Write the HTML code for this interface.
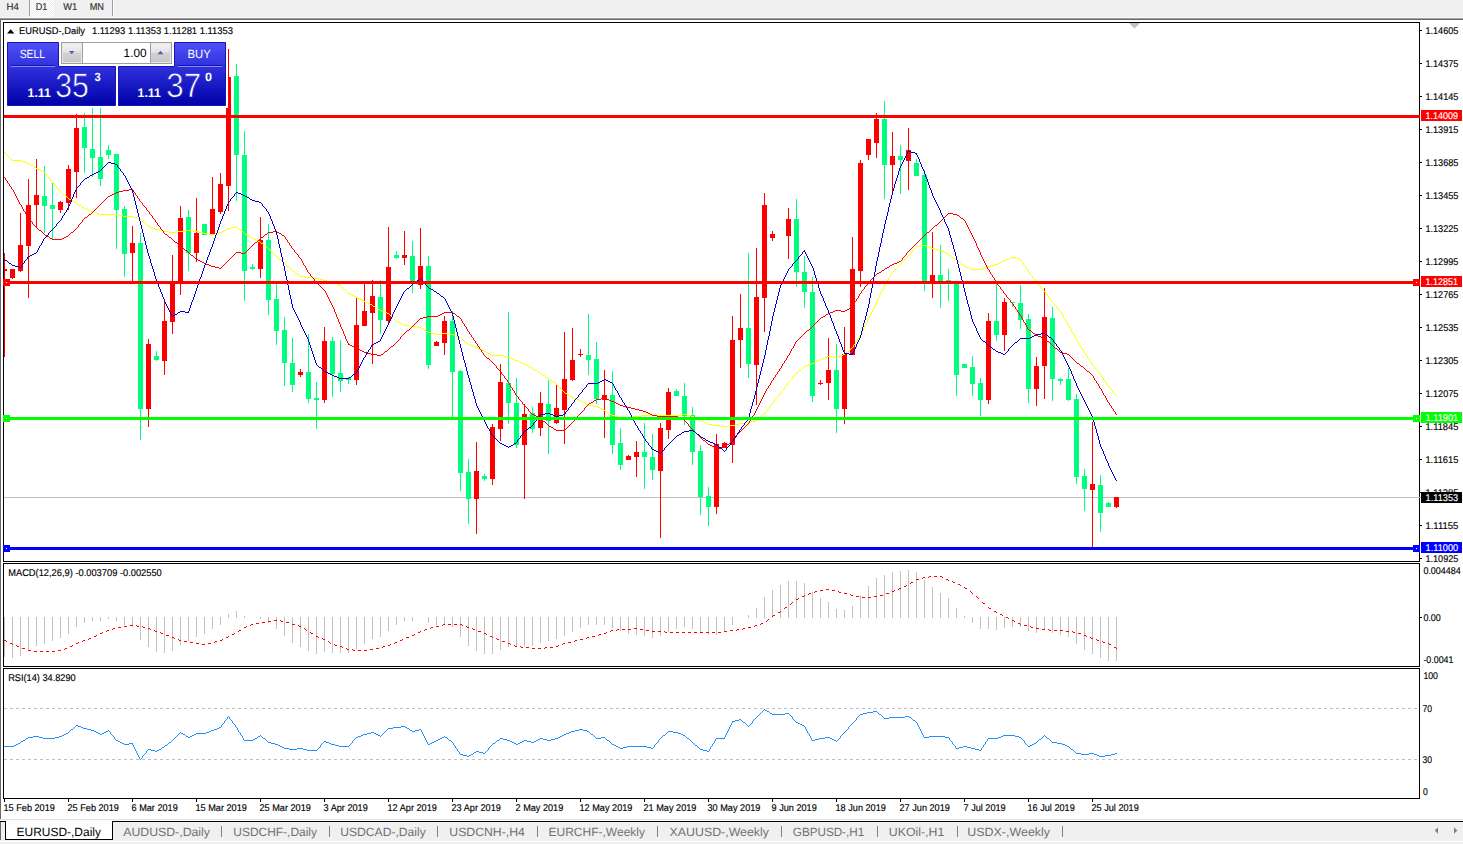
<!DOCTYPE html><html><head><meta charset="utf-8"><title>chart</title><style>html,body{margin:0;padding:0;background:#fff}svg{display:block}</style></head><body><svg width="1463" height="844" viewBox="0 0 1463 844" font-family="Liberation Sans, sans-serif" text-rendering="geometricPrecision">
<defs>
<linearGradient id="pg" gradientUnits="userSpaceOnUse" x1="0" y1="42" x2="0" y2="106"><stop offset="0" stop-color="#5252fa"/><stop offset="0.35" stop-color="#3333e0"/><stop offset="1" stop-color="#0000a8"/></linearGradient>
<linearGradient id="bg" x1="0" y1="0" x2="0" y2="1"><stop offset="0" stop-color="#f2f2f2"/><stop offset="0.45" stop-color="#e4e4e4"/><stop offset="0.5" stop-color="#d2d2d2"/><stop offset="1" stop-color="#c8c8c8"/></linearGradient>
<pattern id="dither" width="2" height="2" patternUnits="userSpaceOnUse"><rect width="2" height="2" fill="#f0f0f0"/><rect width="1" height="1" fill="#fff"/><rect x="1" y="1" width="1" height="1" fill="#fff"/></pattern>
<clipPath id="cm"><rect x="4" y="23" width="1415" height="538"/></clipPath>
</defs>
<rect x="0" y="0" width="1463" height="844" fill="#fff" />
<rect x="0" y="0" width="1463" height="17" fill="#f0f0f0" />
<rect x="0" y="17" width="1463" height="1" fill="#f8f8f8" />
<rect x="0" y="18" width="1463" height="1" fill="#a0a0a0" />
<rect x="0" y="19" width="1463" height="1" fill="#696969" />
<rect x="30" y="0" width="24" height="17" fill="url(#dither)" />
<rect x="29" y="0" width="1" height="16" fill="#a0a0a0" />
<rect x="112" y="0" width="1" height="16" fill="#a0a0a0" />
<rect x="113" y="0" width="1" height="16" fill="#fff" />
<text x="6.6" y="9.8" font-size="10" fill="#303030" textLength="12.3" lengthAdjust="spacingAndGlyphs" stroke="#303030" stroke-width="0.15" >H4</text>
<text x="35.7" y="9.8" font-size="10" fill="#303030" textLength="11.6" lengthAdjust="spacingAndGlyphs" stroke="#303030" stroke-width="0.15" >D1</text>
<text x="63.2" y="9.8" font-size="10" fill="#303030" textLength="13.9" lengthAdjust="spacingAndGlyphs" stroke="#303030" stroke-width="0.15" >W1</text>
<text x="89.7" y="9.8" font-size="10" fill="#303030" textLength="14.3" lengthAdjust="spacingAndGlyphs" stroke="#303030" stroke-width="0.15" >MN</text>
<rect x="0" y="20" width="1" height="800" fill="#696969" />
<g shape-rendering="crispEdges">
<g clip-path="url(#cm)">
<rect x="4" y="497" width="1415" height="1" fill="#c0c0c0" />
<rect x="4" y="253" width="1" height="104" fill="#ff0000" />
<rect x="2" y="269" width="5" height="2" fill="#ff0000" />
<rect x="12" y="269" width="1" height="10" fill="#ff0000" />
<rect x="10" y="269" width="5" height="9" fill="#ff0000" />
<rect x="20" y="213" width="1" height="59" fill="#ff0000" />
<rect x="18" y="245" width="5" height="26" fill="#ff0000" />
<rect x="28" y="179" width="1" height="119" fill="#ff0000" />
<rect x="26" y="205" width="5" height="41" fill="#ff0000" />
<rect x="36" y="159" width="1" height="68" fill="#ff0000" />
<rect x="34" y="195" width="5" height="10" fill="#ff0000" />
<rect x="44" y="166" width="1" height="67" fill="#00ff7f" />
<rect x="42" y="196" width="5" height="10" fill="#00ff7f" />
<rect x="52" y="182" width="1" height="57" fill="#00ff7f" />
<rect x="50" y="205" width="5" height="4" fill="#00ff7f" />
<rect x="60" y="201" width="1" height="12" fill="#ff0000" />
<rect x="58" y="202" width="5" height="8" fill="#ff0000" />
<rect x="68" y="165" width="1" height="45" fill="#ff0000" />
<rect x="66" y="169" width="5" height="34" fill="#ff0000" />
<rect x="76" y="114" width="1" height="84" fill="#ff0000" />
<rect x="74" y="128" width="5" height="44" fill="#ff0000" />
<rect x="84" y="113" width="1" height="60" fill="#00ff7f" />
<rect x="82" y="127" width="5" height="21" fill="#00ff7f" />
<rect x="92" y="108" width="1" height="69" fill="#00ff7f" />
<rect x="90" y="149" width="5" height="9" fill="#00ff7f" />
<rect x="100" y="108" width="1" height="78" fill="#00ff7f" />
<rect x="98" y="157" width="5" height="22" fill="#00ff7f" />
<rect x="108" y="145" width="1" height="14" fill="#00ff7f" />
<rect x="106" y="150" width="5" height="5" fill="#00ff7f" />
<rect x="116" y="154" width="1" height="95" fill="#00ff7f" />
<rect x="114" y="154" width="5" height="56" fill="#00ff7f" />
<rect x="124" y="206" width="1" height="71" fill="#00ff7f" />
<rect x="122" y="209" width="5" height="45" fill="#00ff7f" />
<rect x="132" y="226" width="1" height="55" fill="#ff0000" />
<rect x="130" y="243" width="5" height="10" fill="#ff0000" />
<rect x="140" y="233" width="1" height="207" fill="#00ff7f" />
<rect x="138" y="243" width="5" height="166" fill="#00ff7f" />
<rect x="148" y="339" width="1" height="88" fill="#ff0000" />
<rect x="146" y="344" width="5" height="65" fill="#ff0000" />
<rect x="156" y="351" width="1" height="10" fill="#00ff7f" />
<rect x="154" y="356" width="5" height="4" fill="#00ff7f" />
<rect x="164" y="300" width="1" height="75" fill="#ff0000" />
<rect x="162" y="321" width="5" height="40" fill="#ff0000" />
<rect x="172" y="255" width="1" height="79" fill="#ff0000" />
<rect x="170" y="281" width="5" height="41" fill="#ff0000" />
<rect x="180" y="206" width="1" height="89" fill="#ff0000" />
<rect x="178" y="218" width="5" height="64" fill="#ff0000" />
<rect x="188" y="210" width="1" height="61" fill="#00ff7f" />
<rect x="186" y="217" width="5" height="36" fill="#00ff7f" />
<rect x="196" y="198" width="1" height="64" fill="#ff0000" />
<rect x="194" y="233" width="5" height="20" fill="#ff0000" />
<rect x="204" y="224" width="1" height="11" fill="#00ff7f" />
<rect x="202" y="224" width="5" height="11" fill="#00ff7f" />
<rect x="212" y="177" width="1" height="58" fill="#ff0000" />
<rect x="210" y="209" width="5" height="25" fill="#ff0000" />
<rect x="220" y="173" width="1" height="41" fill="#ff0000" />
<rect x="218" y="184" width="5" height="28" fill="#ff0000" />
<rect x="228" y="49" width="1" height="162" fill="#ff0000" />
<rect x="226" y="77" width="5" height="109" fill="#ff0000" />
<rect x="236" y="64" width="1" height="137" fill="#00ff7f" />
<rect x="234" y="76" width="5" height="79" fill="#00ff7f" />
<rect x="244" y="131" width="1" height="170" fill="#00ff7f" />
<rect x="242" y="155" width="5" height="116" fill="#00ff7f" />
<rect x="252" y="264" width="1" height="6" fill="#00ff7f" />
<rect x="250" y="267" width="5" height="2" fill="#00ff7f" />
<rect x="260" y="217" width="1" height="61" fill="#ff0000" />
<rect x="258" y="240" width="5" height="29" fill="#ff0000" />
<rect x="268" y="224" width="1" height="91" fill="#00ff7f" />
<rect x="266" y="240" width="5" height="60" fill="#00ff7f" />
<rect x="276" y="284" width="1" height="61" fill="#00ff7f" />
<rect x="274" y="299" width="5" height="32" fill="#00ff7f" />
<rect x="284" y="317" width="1" height="69" fill="#00ff7f" />
<rect x="282" y="330" width="5" height="33" fill="#00ff7f" />
<rect x="292" y="338" width="1" height="54" fill="#00ff7f" />
<rect x="290" y="363" width="5" height="22" fill="#00ff7f" />
<rect x="300" y="369" width="1" height="8" fill="#ff0000" />
<rect x="298" y="372" width="5" height="3" fill="#ff0000" />
<rect x="308" y="334" width="1" height="69" fill="#00ff7f" />
<rect x="306" y="372" width="5" height="27" fill="#00ff7f" />
<rect x="316" y="382" width="1" height="47" fill="#00ff7f" />
<rect x="314" y="398" width="5" height="2" fill="#00ff7f" />
<rect x="324" y="327" width="1" height="76" fill="#ff0000" />
<rect x="322" y="341" width="5" height="59" fill="#ff0000" />
<rect x="332" y="337" width="1" height="60" fill="#00ff7f" />
<rect x="330" y="341" width="5" height="33" fill="#00ff7f" />
<rect x="340" y="340" width="1" height="52" fill="#00ff7f" />
<rect x="338" y="373" width="5" height="8" fill="#00ff7f" />
<rect x="348" y="377" width="1" height="7" fill="#00ff7f" />
<rect x="346" y="378" width="5" height="2" fill="#00ff7f" />
<rect x="356" y="298" width="1" height="87" fill="#ff0000" />
<rect x="354" y="325" width="5" height="55" fill="#ff0000" />
<rect x="364" y="284" width="1" height="42" fill="#ff0000" />
<rect x="362" y="311" width="5" height="15" fill="#ff0000" />
<rect x="372" y="280" width="1" height="84" fill="#ff0000" />
<rect x="370" y="296" width="5" height="17" fill="#ff0000" />
<rect x="380" y="280" width="1" height="54" fill="#00ff7f" />
<rect x="378" y="297" width="5" height="23" fill="#00ff7f" />
<rect x="388" y="227" width="1" height="97" fill="#ff0000" />
<rect x="386" y="267" width="5" height="54" fill="#ff0000" />
<rect x="396" y="251" width="1" height="8" fill="#00ff7f" />
<rect x="394" y="255" width="5" height="3" fill="#00ff7f" />
<rect x="404" y="231" width="1" height="34" fill="#ff0000" />
<rect x="402" y="255" width="5" height="3" fill="#ff0000" />
<rect x="412" y="241" width="1" height="52" fill="#00ff7f" />
<rect x="410" y="256" width="5" height="28" fill="#00ff7f" />
<rect x="420" y="228" width="1" height="61" fill="#ff0000" />
<rect x="418" y="266" width="5" height="19" fill="#ff0000" />
<rect x="428" y="256" width="1" height="113" fill="#00ff7f" />
<rect x="426" y="266" width="5" height="99" fill="#00ff7f" />
<rect x="436" y="341" width="1" height="5" fill="#ff0000" />
<rect x="434" y="342" width="5" height="4" fill="#ff0000" />
<rect x="444" y="316" width="1" height="39" fill="#ff0000" />
<rect x="442" y="321" width="5" height="22" fill="#ff0000" />
<rect x="452" y="311" width="1" height="106" fill="#00ff7f" />
<rect x="450" y="321" width="5" height="51" fill="#00ff7f" />
<rect x="460" y="370" width="1" height="121" fill="#00ff7f" />
<rect x="458" y="371" width="5" height="102" fill="#00ff7f" />
<rect x="468" y="459" width="1" height="65" fill="#00ff7f" />
<rect x="466" y="472" width="5" height="27" fill="#00ff7f" />
<rect x="476" y="442" width="1" height="92" fill="#ff0000" />
<rect x="474" y="471" width="5" height="28" fill="#ff0000" />
<rect x="484" y="474" width="1" height="7" fill="#00ff7f" />
<rect x="482" y="476" width="5" height="3" fill="#00ff7f" />
<rect x="492" y="424" width="1" height="61" fill="#ff0000" />
<rect x="490" y="427" width="5" height="52" fill="#ff0000" />
<rect x="500" y="364" width="1" height="77" fill="#ff0000" />
<rect x="498" y="382" width="5" height="47" fill="#ff0000" />
<rect x="508" y="312" width="1" height="112" fill="#00ff7f" />
<rect x="506" y="383" width="5" height="20" fill="#00ff7f" />
<rect x="516" y="378" width="1" height="70" fill="#00ff7f" />
<rect x="514" y="403" width="5" height="42" fill="#00ff7f" />
<rect x="524" y="404" width="1" height="95" fill="#ff0000" />
<rect x="522" y="414" width="5" height="31" fill="#ff0000" />
<rect x="532" y="407" width="1" height="26" fill="#00ff7f" />
<rect x="530" y="413" width="5" height="16" fill="#00ff7f" />
<rect x="540" y="392" width="1" height="44" fill="#ff0000" />
<rect x="538" y="403" width="5" height="25" fill="#ff0000" />
<rect x="548" y="380" width="1" height="74" fill="#00ff7f" />
<rect x="546" y="404" width="5" height="17" fill="#00ff7f" />
<rect x="556" y="385" width="1" height="39" fill="#ff0000" />
<rect x="554" y="408" width="5" height="15" fill="#ff0000" />
<rect x="564" y="332" width="1" height="112" fill="#ff0000" />
<rect x="562" y="379" width="5" height="31" fill="#ff0000" />
<rect x="572" y="328" width="1" height="53" fill="#ff0000" />
<rect x="570" y="360" width="5" height="20" fill="#ff0000" />
<rect x="580" y="349" width="1" height="8" fill="#ff0000" />
<rect x="578" y="354" width="5" height="1" fill="#ff0000" />
<rect x="588" y="314" width="1" height="61" fill="#00ff7f" />
<rect x="586" y="355" width="5" height="5" fill="#00ff7f" />
<rect x="596" y="342" width="1" height="62" fill="#00ff7f" />
<rect x="594" y="359" width="5" height="40" fill="#00ff7f" />
<rect x="604" y="370" width="1" height="68" fill="#ff0000" />
<rect x="602" y="395" width="5" height="5" fill="#ff0000" />
<rect x="612" y="371" width="1" height="83" fill="#00ff7f" />
<rect x="610" y="395" width="5" height="50" fill="#00ff7f" />
<rect x="620" y="428" width="1" height="42" fill="#00ff7f" />
<rect x="618" y="443" width="5" height="22" fill="#00ff7f" />
<rect x="628" y="455" width="1" height="5" fill="#ff0000" />
<rect x="626" y="456" width="5" height="4" fill="#ff0000" />
<rect x="636" y="441" width="1" height="36" fill="#ff0000" />
<rect x="634" y="452" width="5" height="5" fill="#ff0000" />
<rect x="644" y="423" width="1" height="66" fill="#00ff7f" />
<rect x="642" y="452" width="5" height="5" fill="#00ff7f" />
<rect x="652" y="434" width="1" height="46" fill="#00ff7f" />
<rect x="650" y="457" width="5" height="13" fill="#00ff7f" />
<rect x="660" y="423" width="1" height="115" fill="#ff0000" />
<rect x="658" y="428" width="5" height="43" fill="#ff0000" />
<rect x="668" y="388" width="1" height="51" fill="#ff0000" />
<rect x="666" y="392" width="5" height="38" fill="#ff0000" />
<rect x="676" y="389" width="1" height="7" fill="#00ff7f" />
<rect x="674" y="391" width="5" height="5" fill="#00ff7f" />
<rect x="684" y="383" width="1" height="42" fill="#00ff7f" />
<rect x="682" y="396" width="5" height="20" fill="#00ff7f" />
<rect x="692" y="407" width="1" height="58" fill="#00ff7f" />
<rect x="690" y="415" width="5" height="37" fill="#00ff7f" />
<rect x="700" y="445" width="1" height="70" fill="#00ff7f" />
<rect x="698" y="451" width="5" height="46" fill="#00ff7f" />
<rect x="708" y="487" width="1" height="39" fill="#00ff7f" />
<rect x="706" y="496" width="5" height="11" fill="#00ff7f" />
<rect x="716" y="434" width="1" height="80" fill="#ff0000" />
<rect x="714" y="444" width="5" height="63" fill="#ff0000" />
<rect x="724" y="442" width="1" height="6" fill="#ff0000" />
<rect x="722" y="443" width="5" height="5" fill="#ff0000" />
<rect x="732" y="316" width="1" height="147" fill="#ff0000" />
<rect x="730" y="340" width="5" height="105" fill="#ff0000" />
<rect x="740" y="294" width="1" height="74" fill="#ff0000" />
<rect x="738" y="328" width="5" height="12" fill="#ff0000" />
<rect x="748" y="253" width="1" height="125" fill="#00ff7f" />
<rect x="746" y="328" width="5" height="36" fill="#00ff7f" />
<rect x="756" y="248" width="1" height="157" fill="#ff0000" />
<rect x="754" y="297" width="5" height="68" fill="#ff0000" />
<rect x="764" y="193" width="1" height="139" fill="#ff0000" />
<rect x="762" y="205" width="5" height="93" fill="#ff0000" />
<rect x="772" y="231" width="1" height="10" fill="#ff0000" />
<rect x="770" y="234" width="5" height="4" fill="#ff0000" />
<rect x="788" y="208" width="1" height="51" fill="#ff0000" />
<rect x="786" y="219" width="5" height="17" fill="#ff0000" />
<rect x="796" y="199" width="1" height="88" fill="#00ff7f" />
<rect x="794" y="219" width="5" height="53" fill="#00ff7f" />
<rect x="804" y="256" width="1" height="52" fill="#00ff7f" />
<rect x="802" y="272" width="5" height="20" fill="#00ff7f" />
<rect x="812" y="277" width="1" height="125" fill="#00ff7f" />
<rect x="810" y="292" width="5" height="104" fill="#00ff7f" />
<rect x="820" y="380" width="1" height="5" fill="#ff0000" />
<rect x="818" y="383" width="5" height="1" fill="#ff0000" />
<rect x="828" y="338" width="1" height="62" fill="#ff0000" />
<rect x="826" y="370" width="5" height="13" fill="#ff0000" />
<rect x="836" y="344" width="1" height="89" fill="#00ff7f" />
<rect x="834" y="370" width="5" height="39" fill="#00ff7f" />
<rect x="844" y="327" width="1" height="97" fill="#ff0000" />
<rect x="842" y="354" width="5" height="55" fill="#ff0000" />
<rect x="852" y="237" width="1" height="118" fill="#ff0000" />
<rect x="850" y="269" width="5" height="86" fill="#ff0000" />
<rect x="860" y="160" width="1" height="127" fill="#ff0000" />
<rect x="858" y="163" width="5" height="108" fill="#ff0000" />
<rect x="868" y="139" width="1" height="21" fill="#ff0000" />
<rect x="866" y="139" width="5" height="16" fill="#ff0000" />
<rect x="876" y="113" width="1" height="45" fill="#ff0000" />
<rect x="874" y="119" width="5" height="24" fill="#ff0000" />
<rect x="884" y="101" width="1" height="98" fill="#00ff7f" />
<rect x="882" y="119" width="5" height="46" fill="#00ff7f" />
<rect x="892" y="132" width="1" height="62" fill="#ff0000" />
<rect x="890" y="156" width="5" height="9" fill="#ff0000" />
<rect x="900" y="145" width="1" height="49" fill="#00ff7f" />
<rect x="898" y="156" width="5" height="4" fill="#00ff7f" />
<rect x="908" y="128" width="1" height="62" fill="#ff0000" />
<rect x="906" y="150" width="5" height="11" fill="#ff0000" />
<rect x="916" y="159" width="1" height="17" fill="#00ff7f" />
<rect x="914" y="163" width="5" height="13" fill="#00ff7f" />
<rect x="924" y="170" width="1" height="121" fill="#00ff7f" />
<rect x="922" y="175" width="5" height="107" fill="#00ff7f" />
<rect x="932" y="232" width="1" height="66" fill="#ff0000" />
<rect x="930" y="275" width="5" height="7" fill="#ff0000" />
<rect x="940" y="245" width="1" height="63" fill="#00ff7f" />
<rect x="938" y="275" width="5" height="6" fill="#00ff7f" />
<rect x="948" y="269" width="1" height="32" fill="#00ff7f" />
<rect x="946" y="280" width="5" height="1" fill="#00ff7f" />
<rect x="956" y="283" width="1" height="113" fill="#00ff7f" />
<rect x="954" y="283" width="5" height="92" fill="#00ff7f" />
<rect x="964" y="364" width="1" height="4" fill="#00ff7f" />
<rect x="962" y="364" width="5" height="4" fill="#00ff7f" />
<rect x="972" y="356" width="1" height="40" fill="#00ff7f" />
<rect x="970" y="367" width="5" height="17" fill="#00ff7f" />
<rect x="980" y="378" width="1" height="38" fill="#00ff7f" />
<rect x="978" y="383" width="5" height="17" fill="#00ff7f" />
<rect x="988" y="313" width="1" height="91" fill="#ff0000" />
<rect x="986" y="321" width="5" height="79" fill="#ff0000" />
<rect x="996" y="284" width="1" height="57" fill="#00ff7f" />
<rect x="994" y="321" width="5" height="14" fill="#00ff7f" />
<rect x="1004" y="298" width="1" height="53" fill="#ff0000" />
<rect x="1002" y="302" width="5" height="33" fill="#ff0000" />
<rect x="1012" y="302" width="1" height="5" fill="#00ff7f" />
<rect x="1010" y="302" width="5" height="1" fill="#00ff7f" />
<rect x="1020" y="285" width="1" height="44" fill="#00ff7f" />
<rect x="1018" y="303" width="5" height="17" fill="#00ff7f" />
<rect x="1028" y="314" width="1" height="89" fill="#00ff7f" />
<rect x="1026" y="319" width="5" height="70" fill="#00ff7f" />
<rect x="1036" y="357" width="1" height="49" fill="#ff0000" />
<rect x="1034" y="366" width="5" height="23" fill="#ff0000" />
<rect x="1044" y="288" width="1" height="111" fill="#ff0000" />
<rect x="1042" y="317" width="5" height="49" fill="#ff0000" />
<rect x="1052" y="307" width="1" height="94" fill="#00ff7f" />
<rect x="1050" y="318" width="5" height="61" fill="#00ff7f" />
<rect x="1060" y="378" width="1" height="7" fill="#00ff7f" />
<rect x="1058" y="379" width="5" height="2" fill="#00ff7f" />
<rect x="1068" y="368" width="1" height="33" fill="#00ff7f" />
<rect x="1066" y="379" width="5" height="21" fill="#00ff7f" />
<rect x="1076" y="394" width="1" height="90" fill="#00ff7f" />
<rect x="1074" y="399" width="5" height="78" fill="#00ff7f" />
<rect x="1084" y="469" width="1" height="42" fill="#00ff7f" />
<rect x="1082" y="476" width="5" height="13" fill="#00ff7f" />
<rect x="1092" y="422" width="1" height="125" fill="#ff0000" />
<rect x="1090" y="484" width="5" height="6" fill="#ff0000" />
<rect x="1100" y="475" width="1" height="57" fill="#00ff7f" />
<rect x="1098" y="485" width="5" height="28" fill="#00ff7f" />
<rect x="1108" y="502" width="1" height="5" fill="#00ff7f" />
<rect x="1106" y="503" width="5" height="4" fill="#00ff7f" />
<rect x="1116" y="497" width="1" height="11" fill="#ff0000" />
<rect x="1114" y="497" width="5" height="10" fill="#ff0000" />
<path d="M4 152h1v1h-1zM5 153h1v1h-1zM6 154h1v1h-1zM7 155h1v1h-1zM8 156h1v1h-1zM9 157h1v1h-1zM10 158h1v1h-1zM11 159h1v1h-1zM12 160h10v1h-10zM22 161h3v1h-3zM25 162h2v1h-2zM27 163h2v1h-2zM29 164h2v1h-2zM31 165h2v1h-2zM33 166h1v1h-1zM34 167h2v1h-2zM36 168h2v1h-2zM38 169h2v1h-2zM40 170h2v1h-2zM42 171h2v1h-2zM44 172h1v1h-1zM45 173h1v1h-1zM46 174h1v2h-1zM47 176h1v1h-1zM48 177h1v1h-1zM49 178h1v1h-1zM50 179h1v2h-1zM51 181h1v1h-1zM52 182h1v1h-1zM53 183h1v1h-1zM54 184h1v1h-1zM55 185h1v1h-1zM56 186h1v2h-1zM57 188h1v1h-1zM58 189h1v1h-1zM59 190h1v1h-1zM60 191h1v1h-1zM61 192h1v1h-1zM62 193h1v1h-1zM63 194h2v1h-2zM65 195h1v1h-1zM66 196h1v1h-1zM67 197h1v1h-1zM68 198h1v1h-1zM69 199h2v1h-2zM71 200h2v1h-2zM73 201h1v1h-1zM74 202h2v1h-2zM76 203h1v1h-1zM77 204h2v1h-2zM79 205h2v1h-2zM81 206h1v1h-1zM82 207h2v1h-2zM84 208h2v1h-2zM86 209h3v1h-3zM89 210h2v1h-2zM91 211h3v1h-3zM94 212h3v1h-3zM97 213h2v1h-2zM99 214h20v1h-20zM119 215h4v1h-4zM123 216h11v1h-11zM134 217h3v1h-3zM137 218h2v1h-2zM139 219h2v1h-2zM141 220h1v1h-1zM142 221h1v1h-1zM143 222h2v1h-2zM145 223h1v1h-1zM146 224h1v1h-1zM147 225h1v1h-1zM148 226h2v1h-2zM235 226h2v1h-2zM150 227h3v1h-3zM231 227h4v1h-4zM237 227h1v1h-1zM153 228h2v1h-2zM228 228h3v1h-3zM238 228h1v1h-1zM155 229h4v1h-4zM226 229h2v1h-2zM239 229h2v1h-2zM159 230h4v1h-4zM185 230h8v1h-8zM224 230h2v1h-2zM241 230h1v1h-1zM163 231h6v1h-6zM177 231h8v1h-8zM193 231h6v1h-6zM222 231h2v1h-2zM242 231h1v1h-1zM169 232h8v1h-8zM199 232h4v1h-4zM219 232h3v1h-3zM243 232h1v1h-1zM203 233h6v1h-6zM215 233h4v1h-4zM244 233h1v1h-1zM209 234h6v1h-6zM245 234h2v1h-2zM247 235h2v1h-2zM249 236h1v1h-1zM250 237h2v1h-2zM252 238h2v1h-2zM254 239h2v1h-2zM256 240h2v1h-2zM258 241h2v1h-2zM260 242h1v1h-1zM261 243h2v1h-2zM263 244h1v1h-1zM264 245h1v1h-1zM921 245h5v1h-5zM265 246h2v1h-2zM916 246h5v1h-5zM926 246h3v1h-3zM267 247h1v1h-1zM915 247h1v1h-1zM929 247h2v1h-2zM268 248h1v1h-1zM914 248h1v1h-1zM931 248h4v1h-4zM269 249h1v1h-1zM913 249h1v1h-1zM935 249h4v1h-4zM270 250h1v1h-1zM939 250h3v1h-3zM912 250h1v2h-1zM271 251h1v1h-1zM942 251h2v1h-2zM272 252h1v1h-1zM911 252h1v1h-1zM944 252h2v1h-2zM273 253h1v1h-1zM910 253h1v1h-1zM946 253h2v1h-2zM274 254h1v1h-1zM909 254h1v1h-1zM948 254h1v1h-1zM275 255h1v1h-1zM908 255h1v1h-1zM949 255h2v1h-2zM276 256h1v1h-1zM907 256h1v1h-1zM951 256h1v1h-1zM277 257h1v1h-1zM906 257h1v1h-1zM952 257h1v1h-1zM1011 257h4v1h-4zM278 258h1v1h-1zM905 258h1v1h-1zM953 258h2v1h-2zM1009 258h2v1h-2zM1015 258h4v1h-4zM279 259h2v1h-2zM955 259h1v1h-1zM1006 259h3v1h-3zM1019 259h2v1h-2zM904 259h1v2h-1zM281 260h1v1h-1zM956 260h1v1h-1zM1004 260h2v1h-2zM1021 260h1v2h-1zM282 261h1v1h-1zM903 261h1v1h-1zM957 261h2v1h-2zM1002 261h2v1h-2zM283 262h1v1h-1zM902 262h1v1h-1zM959 262h1v1h-1zM1000 262h2v1h-2zM1022 262h1v1h-1zM284 263h1v1h-1zM901 263h1v1h-1zM960 263h1v1h-1zM998 263h2v1h-2zM1023 263h1v2h-1zM285 264h1v1h-1zM900 264h1v1h-1zM961 264h2v1h-2zM995 264h3v1h-3zM286 265h1v1h-1zM899 265h1v1h-1zM963 265h1v1h-1zM991 265h4v1h-4zM1024 265h1v1h-1zM287 266h2v1h-2zM898 266h1v1h-1zM964 266h2v1h-2zM987 266h4v1h-4zM1025 266h1v2h-1zM289 267h1v1h-1zM897 267h1v1h-1zM966 267h3v1h-3zM985 267h2v1h-2zM290 268h1v1h-1zM896 268h1v1h-1zM969 268h2v1h-2zM982 268h3v1h-3zM1026 268h1v1h-1zM291 269h1v1h-1zM895 269h1v1h-1zM971 269h11v1h-11zM1027 269h1v2h-1zM292 270h1v1h-1zM894 270h1v1h-1zM293 271h2v1h-2zM893 271h1v1h-1zM1028 271h1v1h-1zM295 272h1v1h-1zM892 272h1v1h-1zM1029 272h1v2h-1zM296 273h1v1h-1zM891 273h1v2h-1zM297 274h2v1h-2zM1030 274h1v1h-1zM299 275h1v1h-1zM1031 275h1v1h-1zM890 275h1v2h-1zM300 276h5v1h-5zM1032 276h1v2h-1zM305 277h8v1h-8zM889 277h1v1h-1zM313 278h6v1h-6zM1033 278h1v1h-1zM888 278h1v2h-1zM319 279h4v1h-4zM1034 279h1v1h-1zM323 280h4v1h-4zM887 280h1v1h-1zM1035 280h1v2h-1zM327 281h4v1h-4zM886 281h1v2h-1zM331 282h3v1h-3zM1036 282h1v1h-1zM334 283h3v1h-3zM1037 283h1v1h-1zM885 283h1v2h-1zM337 284h2v1h-2zM1038 284h1v1h-1zM339 285h2v1h-2zM1039 285h1v1h-1zM884 285h1v2h-1zM341 286h1v1h-1zM1040 286h1v2h-1zM342 287h1v1h-1zM883 287h1v2h-1zM343 288h1v1h-1zM1041 288h1v1h-1zM344 289h1v1h-1zM1042 289h1v1h-1zM882 289h1v2h-1zM345 290h1v1h-1zM1043 290h1v1h-1zM346 291h1v1h-1zM1044 291h1v1h-1zM881 291h1v2h-1zM347 292h1v1h-1zM1045 292h1v2h-1zM348 293h2v1h-2zM880 293h1v2h-1zM350 294h2v1h-2zM1046 294h1v1h-1zM352 295h2v1h-2zM1047 295h1v1h-1zM879 295h1v2h-1zM354 296h2v1h-2zM1048 296h1v2h-1zM356 297h2v1h-2zM878 297h1v2h-1zM358 298h2v1h-2zM1049 298h1v1h-1zM360 299h2v1h-2zM1050 299h1v1h-1zM877 299h1v2h-1zM362 300h2v1h-2zM1051 300h1v2h-1zM364 301h2v1h-2zM876 301h1v3h-1zM366 302h2v1h-2zM1052 302h1v1h-1zM368 303h2v1h-2zM1053 303h1v1h-1zM370 304h2v1h-2zM1054 304h1v1h-1zM875 304h1v2h-1zM372 305h1v1h-1zM1055 305h1v1h-1zM373 306h2v1h-2zM874 306h1v2h-1zM1056 306h1v2h-1zM375 307h2v1h-2zM377 308h1v1h-1zM1057 308h1v1h-1zM873 308h1v2h-1zM378 309h2v1h-2zM1058 309h1v1h-1zM380 310h2v1h-2zM1059 310h1v1h-1zM872 310h1v2h-1zM382 311h3v1h-3zM1060 311h1v1h-1zM385 312h2v1h-2zM871 312h1v2h-1zM1061 312h1v2h-1zM387 313h2v1h-2zM389 314h1v1h-1zM870 314h1v2h-1zM1062 314h1v2h-1zM390 315h1v1h-1zM391 316h1v1h-1zM869 316h1v2h-1zM1063 316h1v2h-1zM392 317h1v1h-1zM393 318h1v1h-1zM1064 318h1v1h-1zM868 318h1v2h-1zM394 319h1v1h-1zM1065 319h1v2h-1zM395 320h1v1h-1zM867 320h1v2h-1zM396 321h2v1h-2zM1066 321h1v2h-1zM398 322h2v1h-2zM866 322h1v2h-1zM400 323h2v1h-2zM1067 323h1v2h-1zM402 324h2v1h-2zM865 324h1v2h-1zM404 325h5v1h-5zM1068 325h1v1h-1zM409 326h8v1h-8zM864 326h1v2h-1zM1069 326h1v2h-1zM417 327h4v1h-4zM421 328h2v1h-2zM863 328h1v2h-1zM1070 328h1v2h-1zM423 329h2v1h-2zM425 330h1v1h-1zM862 330h1v2h-1zM1071 330h1v2h-1zM426 331h2v1h-2zM428 332h3v1h-3zM1072 332h1v1h-1zM861 332h1v2h-1zM431 333h4v1h-4zM441 333h8v1h-8zM1073 333h1v2h-1zM435 334h6v1h-6zM449 334h5v1h-5zM860 334h1v2h-1zM454 335h2v1h-2zM1074 335h1v2h-1zM456 336h2v1h-2zM859 336h1v2h-1zM458 337h2v1h-2zM1075 337h1v2h-1zM460 338h1v1h-1zM858 338h1v1h-1zM461 339h2v1h-2zM1076 339h1v1h-1zM857 339h1v2h-1zM463 340h1v1h-1zM1077 340h1v2h-1zM464 341h1v1h-1zM856 341h1v1h-1zM465 342h2v1h-2zM855 342h1v2h-1zM1078 342h1v2h-1zM467 343h1v1h-1zM468 344h2v1h-2zM854 344h1v1h-1zM1079 344h1v1h-1zM470 345h3v1h-3zM853 345h1v2h-1zM1080 345h1v2h-1zM473 346h2v1h-2zM475 347h3v1h-3zM852 347h1v1h-1zM1081 347h1v1h-1zM478 348h2v1h-2zM851 348h1v1h-1zM1082 348h1v2h-1zM480 349h2v1h-2zM850 349h1v1h-1zM482 350h2v1h-2zM849 350h1v1h-1zM1083 350h1v2h-1zM484 351h2v1h-2zM847 351h2v1h-2zM486 352h2v1h-2zM846 352h1v1h-1zM1084 352h1v1h-1zM488 353h2v1h-2zM845 353h1v1h-1zM1085 353h1v2h-1zM490 354h2v1h-2zM843 354h2v1h-2zM492 355h11v1h-11zM841 355h2v1h-2zM1086 355h1v1h-1zM503 356h4v1h-4zM827 356h6v1h-6zM838 356h3v1h-3zM1087 356h1v2h-1zM507 357h3v1h-3zM825 357h2v1h-2zM833 357h5v1h-5zM510 358h3v1h-3zM822 358h3v1h-3zM1088 358h1v1h-1zM513 359h2v1h-2zM820 359h2v1h-2zM1089 359h1v2h-1zM515 360h3v1h-3zM818 360h2v1h-2zM518 361h2v1h-2zM816 361h2v1h-2zM1090 361h1v1h-1zM520 362h2v1h-2zM814 362h2v1h-2zM1091 362h1v2h-1zM522 363h2v1h-2zM811 363h3v1h-3zM524 364h2v1h-2zM809 364h2v1h-2zM1092 364h1v1h-1zM526 365h2v1h-2zM806 365h3v1h-3zM1093 365h1v1h-1zM528 366h2v1h-2zM804 366h2v1h-2zM1094 366h1v2h-1zM530 367h2v1h-2zM803 367h1v1h-1zM532 368h1v1h-1zM802 368h1v1h-1zM1095 368h1v1h-1zM533 369h2v1h-2zM801 369h1v1h-1zM1096 369h1v1h-1zM535 370h2v1h-2zM799 370h2v1h-2zM1097 370h1v1h-1zM537 371h1v1h-1zM798 371h1v1h-1zM1098 371h1v2h-1zM538 372h2v1h-2zM797 372h1v1h-1zM540 373h1v1h-1zM796 373h1v1h-1zM1099 373h1v1h-1zM541 374h2v1h-2zM795 374h1v1h-1zM1100 374h1v1h-1zM543 375h2v1h-2zM794 375h1v1h-1zM1101 375h1v2h-1zM545 376h1v1h-1zM793 376h1v1h-1zM546 377h2v1h-2zM1102 377h1v1h-1zM792 377h1v2h-1zM548 378h1v1h-1zM1103 378h1v2h-1zM549 379h2v1h-2zM791 379h1v1h-1zM551 380h1v1h-1zM790 380h1v1h-1zM1104 380h1v1h-1zM552 381h1v1h-1zM789 381h1v1h-1zM1105 381h1v2h-1zM553 382h2v1h-2zM788 382h1v1h-1zM555 383h1v1h-1zM1106 383h1v1h-1zM787 383h1v2h-1zM556 384h1v1h-1zM1107 384h1v2h-1zM557 385h1v1h-1zM786 385h1v1h-1zM558 386h1v1h-1zM785 386h1v1h-1zM1108 386h1v1h-1zM559 387h1v1h-1zM1109 387h1v1h-1zM784 387h1v2h-1zM560 388h1v1h-1zM1110 388h1v1h-1zM561 389h1v1h-1zM783 389h1v1h-1zM1111 389h1v1h-1zM562 390h1v1h-1zM782 390h1v1h-1zM1112 390h1v2h-1zM563 391h1v1h-1zM781 391h1v2h-1zM564 392h1v1h-1zM1113 392h1v1h-1zM565 393h2v1h-2zM780 393h1v1h-1zM1114 393h1v1h-1zM567 394h2v1h-2zM779 394h1v1h-1zM1115 394h1v1h-1zM569 395h1v1h-1zM1116 395h1v1h-1zM778 395h1v2h-1zM570 396h2v1h-2zM572 397h2v1h-2zM777 397h1v1h-1zM574 398h3v1h-3zM776 398h1v1h-1zM577 399h2v1h-2zM775 399h1v1h-1zM579 400h2v1h-2zM774 400h1v2h-1zM581 401h2v1h-2zM583 402h2v1h-2zM773 402h1v1h-1zM585 403h1v1h-1zM772 403h1v1h-1zM586 404h2v1h-2zM771 404h1v1h-1zM588 405h5v1h-5zM770 405h1v2h-1zM593 406h5v1h-5zM598 407h2v1h-2zM769 407h1v1h-1zM600 408h2v1h-2zM768 408h1v1h-1zM602 409h2v1h-2zM767 409h1v1h-1zM604 410h1v1h-1zM766 410h1v2h-1zM605 411h2v1h-2zM607 412h2v1h-2zM765 412h1v1h-1zM609 413h1v1h-1zM764 413h1v1h-1zM610 414h2v1h-2zM681 414h6v1h-6zM763 414h1v1h-1zM612 415h3v1h-3zM641 415h40v1h-40zM687 415h4v1h-4zM762 415h1v1h-1zM615 416h4v1h-4zM633 416h8v1h-8zM691 416h3v1h-3zM761 416h1v1h-1zM619 417h14v1h-14zM694 417h2v1h-2zM759 417h2v1h-2zM696 418h2v1h-2zM758 418h1v1h-1zM698 419h2v1h-2zM757 419h1v1h-1zM700 420h2v1h-2zM755 420h2v1h-2zM702 421h2v1h-2zM751 421h4v1h-4zM704 422h2v1h-2zM745 422h6v1h-6zM706 423h2v1h-2zM739 423h6v1h-6zM708 424h5v1h-5zM735 424h4v1h-4zM713 425h8v1h-8zM729 425h6v1h-6zM721 426h8v1h-8z" fill="#ffff00"/>
<path d="M4 177h1v1h-1zM5 178h1v2h-1zM6 180h1v1h-1zM7 181h1v2h-1zM8 183h1v1h-1zM9 184h1v2h-1zM10 186h1v1h-1zM11 187h1v2h-1zM12 189h1v1h-1zM129 189h4v1h-4zM123 190h6v1h-6zM13 190h1v2h-1zM133 190h1v2h-1zM119 191h4v1h-4zM116 192h3v1h-3zM134 192h1v1h-1zM14 192h1v2h-1zM114 193h2v1h-2zM135 193h1v2h-1zM112 194h2v1h-2zM15 194h1v2h-1zM110 195h2v1h-2zM136 195h1v1h-1zM108 196h2v1h-2zM16 196h1v2h-1zM137 196h1v2h-1zM107 197h1v1h-1zM106 198h1v1h-1zM138 198h1v1h-1zM17 198h1v2h-1zM105 199h1v1h-1zM139 199h1v2h-1zM104 200h1v1h-1zM18 200h1v2h-1zM103 201h1v1h-1zM140 201h1v1h-1zM102 202h1v1h-1zM141 202h1v1h-1zM19 202h1v2h-1zM101 203h1v1h-1zM142 203h1v2h-1zM20 204h1v1h-1zM100 204h1v1h-1zM99 205h1v1h-1zM143 205h1v1h-1zM21 205h1v2h-1zM98 206h1v1h-1zM144 206h1v1h-1zM97 207h1v1h-1zM145 207h1v1h-1zM22 207h1v2h-1zM96 208h1v1h-1zM146 208h1v2h-1zM95 209h1v1h-1zM23 209h1v2h-1zM94 210h1v1h-1zM147 210h1v1h-1zM24 211h1v1h-1zM93 211h1v1h-1zM148 211h1v1h-1zM92 212h1v1h-1zM25 212h1v2h-1zM149 212h1v2h-1zM91 213h1v1h-1zM948 213h5v1h-5zM89 214h2v1h-2zM150 214h1v1h-1zM947 214h1v1h-1zM953 214h4v1h-4zM26 214h1v2h-1zM88 215h1v1h-1zM151 215h1v1h-1zM946 215h1v1h-1zM957 215h2v1h-2zM87 216h1v1h-1zM945 216h1v1h-1zM959 216h1v1h-1zM27 216h1v2h-1zM152 216h1v2h-1zM85 217h2v1h-2zM944 217h1v1h-1zM960 217h1v1h-1zM28 218h1v1h-1zM84 218h1v1h-1zM153 218h1v1h-1zM943 218h1v1h-1zM961 218h2v1h-2zM29 219h1v1h-1zM83 219h1v1h-1zM154 219h1v1h-1zM942 219h1v1h-1zM963 219h1v1h-1zM30 220h1v1h-1zM941 220h1v1h-1zM964 220h1v1h-1zM82 220h1v2h-1zM155 220h1v2h-1zM31 221h1v1h-1zM940 221h1v1h-1zM965 221h1v2h-1zM81 222h1v1h-1zM156 222h1v1h-1zM939 222h1v1h-1zM32 222h1v2h-1zM80 223h1v1h-1zM938 223h1v1h-1zM157 223h1v2h-1zM966 223h1v2h-1zM33 224h1v1h-1zM79 224h1v1h-1zM937 224h1v1h-1zM34 225h1v1h-1zM158 225h1v1h-1zM935 225h2v1h-2zM78 225h1v2h-1zM967 225h1v2h-1zM35 226h1v1h-1zM159 226h1v1h-1zM934 226h1v1h-1zM36 227h1v1h-1zM77 227h1v1h-1zM933 227h1v1h-1zM160 227h1v2h-1zM968 227h1v2h-1zM37 228h1v1h-1zM76 228h1v1h-1zM932 228h1v1h-1zM38 229h1v1h-1zM75 229h1v1h-1zM161 229h1v1h-1zM931 229h1v1h-1zM969 229h1v2h-1zM39 230h2v1h-2zM74 230h1v1h-1zM162 230h1v1h-1zM930 230h1v1h-1zM41 231h1v1h-1zM73 231h1v1h-1zM273 231h4v1h-4zM929 231h1v1h-1zM163 231h1v2h-1zM970 231h1v2h-1zM42 232h1v1h-1zM71 232h2v1h-2zM268 232h5v1h-5zM277 232h2v1h-2zM927 232h2v1h-2zM43 233h1v1h-1zM70 233h1v1h-1zM164 233h1v1h-1zM267 233h1v1h-1zM279 233h2v1h-2zM926 233h1v1h-1zM971 233h1v2h-1zM44 234h1v1h-1zM69 234h1v1h-1zM165 234h2v1h-2zM265 234h2v1h-2zM281 234h1v1h-1zM925 234h1v1h-1zM45 235h2v1h-2zM68 235h1v1h-1zM167 235h1v1h-1zM264 235h1v1h-1zM282 235h2v1h-2zM924 235h1v1h-1zM972 235h1v2h-1zM47 236h2v1h-2zM66 236h2v1h-2zM168 236h1v1h-1zM263 236h1v1h-1zM284 236h1v1h-1zM923 236h1v1h-1zM49 237h1v1h-1zM64 237h2v1h-2zM169 237h2v1h-2zM261 237h2v1h-2zM922 237h1v1h-1zM285 237h1v2h-1zM973 237h1v2h-1zM50 238h2v1h-2zM62 238h2v1h-2zM171 238h1v1h-1zM260 238h1v1h-1zM921 238h1v1h-1zM52 239h10v1h-10zM172 239h1v1h-1zM259 239h1v1h-1zM286 239h1v1h-1zM920 239h1v1h-1zM974 239h1v2h-1zM173 240h1v1h-1zM258 240h1v1h-1zM919 240h1v1h-1zM287 240h1v2h-1zM174 241h1v1h-1zM257 241h1v1h-1zM918 241h1v1h-1zM975 241h1v2h-1zM175 242h2v1h-2zM255 242h2v1h-2zM288 242h1v1h-1zM917 242h1v1h-1zM177 243h1v1h-1zM254 243h1v1h-1zM916 243h1v1h-1zM289 243h1v2h-1zM976 243h1v3h-1zM178 244h1v1h-1zM253 244h1v1h-1zM915 244h1v1h-1zM179 245h1v1h-1zM252 245h1v1h-1zM290 245h1v1h-1zM914 245h1v1h-1zM180 246h1v1h-1zM251 246h1v1h-1zM913 246h1v1h-1zM291 246h1v2h-1zM977 246h1v2h-1zM181 247h2v1h-2zM250 247h1v1h-1zM912 247h1v1h-1zM183 248h1v1h-1zM249 248h1v1h-1zM292 248h1v1h-1zM911 248h1v1h-1zM978 248h1v2h-1zM184 249h1v1h-1zM248 249h1v1h-1zM293 249h1v1h-1zM910 249h1v1h-1zM185 250h2v1h-2zM247 250h1v1h-1zM909 250h1v1h-1zM294 250h1v2h-1zM979 250h1v2h-1zM187 251h1v1h-1zM246 251h1v1h-1zM908 251h1v1h-1zM188 252h1v1h-1zM236 252h5v1h-5zM245 252h1v1h-1zM295 252h1v1h-1zM907 252h1v1h-1zM980 252h1v3h-1zM189 253h1v1h-1zM235 253h1v1h-1zM241 253h4v1h-4zM296 253h1v1h-1zM906 253h1v2h-1zM190 254h1v1h-1zM234 254h1v1h-1zM297 254h1v1h-1zM191 255h2v1h-2zM233 255h1v1h-1zM905 255h1v1h-1zM298 255h1v2h-1zM981 255h1v2h-1zM193 256h1v1h-1zM232 256h1v1h-1zM904 256h1v1h-1zM194 257h1v1h-1zM231 257h1v1h-1zM299 257h1v1h-1zM903 257h1v1h-1zM982 257h1v2h-1zM195 258h1v1h-1zM230 258h1v1h-1zM300 258h1v1h-1zM902 258h1v2h-1zM196 259h2v1h-2zM229 259h1v1h-1zM301 259h1v2h-1zM983 259h1v2h-1zM198 260h2v1h-2zM228 260h1v1h-1zM901 260h1v1h-1zM200 261h2v1h-2zM227 261h1v1h-1zM899 261h2v1h-2zM302 261h1v2h-1zM984 261h1v2h-1zM202 262h2v1h-2zM226 262h1v1h-1zM897 262h2v1h-2zM204 263h2v1h-2zM225 263h1v1h-1zM894 263h3v1h-3zM303 263h1v2h-1zM985 263h1v2h-1zM206 264h3v1h-3zM224 264h1v1h-1zM892 264h2v1h-2zM209 265h2v1h-2zM223 265h1v1h-1zM304 265h1v1h-1zM890 265h2v1h-2zM986 265h1v2h-1zM211 266h4v1h-4zM222 266h1v1h-1zM889 266h1v1h-1zM305 266h1v2h-1zM215 267h4v1h-4zM221 267h1v1h-1zM887 267h2v1h-2zM987 267h1v2h-1zM219 268h2v1h-2zM885 268h2v1h-2zM306 268h1v2h-1zM884 269h1v1h-1zM988 269h1v1h-1zM882 270h2v1h-2zM307 270h1v2h-1zM989 270h1v2h-1zM881 271h1v1h-1zM308 272h1v1h-1zM879 272h2v1h-2zM990 272h1v2h-1zM309 273h1v1h-1zM877 273h2v1h-2zM876 274h1v1h-1zM991 274h1v1h-1zM310 274h1v2h-1zM875 275h1v1h-1zM992 275h1v2h-1zM311 276h1v1h-1zM874 276h1v1h-1zM312 277h1v1h-1zM873 277h1v1h-1zM993 277h1v1h-1zM313 278h1v1h-1zM872 278h1v1h-1zM994 278h1v2h-1zM871 279h1v1h-1zM314 279h1v2h-1zM870 280h1v1h-1zM995 280h1v2h-1zM315 281h1v1h-1zM869 281h1v1h-1zM316 282h1v1h-1zM868 282h1v1h-1zM996 282h1v1h-1zM317 283h1v1h-1zM867 283h1v2h-1zM997 283h1v2h-1zM318 284h1v1h-1zM319 285h1v1h-1zM866 285h1v1h-1zM998 285h1v1h-1zM320 286h1v1h-1zM865 286h1v1h-1zM999 286h1v1h-1zM321 287h1v1h-1zM864 287h1v2h-1zM1000 287h1v2h-1zM322 288h1v1h-1zM323 289h1v1h-1zM863 289h1v1h-1zM1001 289h1v1h-1zM324 290h1v1h-1zM862 290h1v1h-1zM1002 290h1v1h-1zM325 291h1v2h-1zM861 291h1v2h-1zM1003 291h1v2h-1zM860 293h1v1h-1zM1004 293h1v1h-1zM326 293h1v2h-1zM1005 294h1v1h-1zM859 294h1v2h-1zM327 295h1v2h-1zM1006 295h1v2h-1zM858 296h1v2h-1zM1007 297h1v1h-1zM328 297h1v2h-1zM857 298h1v1h-1zM1008 298h1v1h-1zM1009 299h1v1h-1zM329 299h1v2h-1zM856 299h1v2h-1zM1010 300h1v2h-1zM855 301h1v1h-1zM330 301h1v2h-1zM1011 302h1v1h-1zM854 302h1v2h-1zM1012 303h1v1h-1zM331 303h1v2h-1zM853 304h1v2h-1zM1013 304h1v2h-1zM332 305h1v2h-1zM852 306h1v1h-1zM1014 306h1v1h-1zM850 307h2v1h-2zM333 307h1v2h-1zM1015 307h1v2h-1zM849 308h1v1h-1zM847 309h2v1h-2zM1016 309h1v1h-1zM334 309h1v3h-1zM835 310h6v1h-6zM845 310h2v1h-2zM1017 310h1v2h-1zM833 311h2v1h-2zM841 311h4v1h-4zM444 312h9v1h-9zM830 312h3v1h-3zM1018 312h1v1h-1zM335 312h1v2h-1zM442 313h2v1h-2zM453 313h2v1h-2zM828 313h2v1h-2zM1019 313h1v2h-1zM440 314h2v1h-2zM455 314h1v1h-1zM826 314h2v1h-2zM336 314h1v3h-1zM438 315h2v1h-2zM456 315h1v1h-1zM825 315h1v1h-1zM1020 315h1v1h-1zM427 316h11v1h-11zM457 316h2v1h-2zM823 316h2v1h-2zM1021 316h1v2h-1zM423 317h4v1h-4zM459 317h1v1h-1zM821 317h2v1h-2zM337 317h1v2h-1zM420 318h3v1h-3zM460 318h1v1h-1zM820 318h1v1h-1zM1022 318h1v2h-1zM419 319h1v1h-1zM819 319h1v1h-1zM461 319h1v2h-1zM338 319h1v3h-1zM418 320h1v1h-1zM818 320h1v1h-1zM1023 320h1v2h-1zM417 321h1v1h-1zM817 321h1v1h-1zM462 321h1v2h-1zM416 322h1v1h-1zM816 322h1v1h-1zM1024 322h1v1h-1zM339 322h1v2h-1zM415 323h1v1h-1zM463 323h1v1h-1zM815 323h1v1h-1zM1025 323h1v2h-1zM414 324h1v1h-1zM814 324h1v1h-1zM464 324h1v2h-1zM340 324h1v3h-1zM413 325h1v1h-1zM813 325h1v1h-1zM1026 325h1v2h-1zM412 326h1v1h-1zM465 326h1v1h-1zM812 326h1v1h-1zM411 327h1v1h-1zM811 327h1v1h-1zM341 327h1v2h-1zM466 327h1v2h-1zM1027 327h1v2h-1zM410 328h1v1h-1zM810 328h1v1h-1zM409 329h1v1h-1zM809 329h1v1h-1zM1028 329h1v1h-1zM342 329h1v2h-1zM467 329h1v2h-1zM407 330h2v1h-2zM807 330h2v1h-2zM1029 330h2v1h-2zM406 331h1v1h-1zM468 331h1v1h-1zM806 331h1v1h-1zM1031 331h1v1h-1zM343 331h1v3h-1zM405 332h1v1h-1zM805 332h1v1h-1zM1032 332h1v1h-1zM469 332h1v2h-1zM404 333h1v1h-1zM804 333h1v1h-1zM1033 333h2v1h-2zM403 334h1v1h-1zM470 334h1v1h-1zM803 334h1v1h-1zM1035 334h1v1h-1zM344 334h1v2h-1zM402 335h1v1h-1zM802 335h1v1h-1zM1036 335h2v1h-2zM471 335h1v2h-1zM401 336h1v1h-1zM801 336h1v1h-1zM1038 336h3v1h-3zM345 336h1v3h-1zM472 337h1v1h-1zM800 337h1v1h-1zM1041 337h2v1h-2zM400 337h1v2h-1zM799 338h1v1h-1zM1043 338h2v1h-2zM473 338h1v2h-1zM399 339h1v1h-1zM798 339h1v1h-1zM1045 339h1v1h-1zM346 339h1v2h-1zM398 340h1v1h-1zM474 340h1v1h-1zM797 340h1v1h-1zM1046 340h1v1h-1zM397 341h1v1h-1zM796 341h1v1h-1zM1047 341h2v1h-2zM347 341h1v2h-1zM475 341h1v2h-1zM396 342h1v1h-1zM1049 342h1v1h-1zM795 342h1v2h-1zM395 343h1v1h-1zM476 343h1v1h-1zM1050 343h1v1h-1zM348 343h1v2h-1zM349 344h1v1h-1zM394 344h1v1h-1zM1051 344h1v1h-1zM477 344h1v2h-1zM794 344h1v2h-1zM350 345h2v1h-2zM393 345h1v1h-1zM1052 345h1v1h-1zM352 346h2v1h-2zM391 346h2v1h-2zM478 346h1v1h-1zM1053 346h1v1h-1zM793 346h1v2h-1zM354 347h2v1h-2zM390 347h1v1h-1zM1054 347h1v1h-1zM479 347h1v2h-1zM356 348h2v1h-2zM389 348h1v1h-1zM792 348h1v1h-1zM1055 348h2v1h-2zM358 349h2v1h-2zM388 349h1v1h-1zM480 349h1v1h-1zM1057 349h1v1h-1zM791 349h1v2h-1zM360 350h2v1h-2zM387 350h1v1h-1zM1058 350h1v1h-1zM481 350h1v2h-1zM362 351h2v1h-2zM385 351h2v1h-2zM1059 351h1v1h-1zM790 351h1v2h-1zM364 352h3v1h-3zM384 352h1v1h-1zM482 352h1v1h-1zM1060 352h3v1h-3zM367 353h4v1h-4zM383 353h1v1h-1zM1063 353h4v1h-4zM483 353h1v2h-1zM789 353h1v2h-1zM371 354h6v1h-6zM381 354h2v1h-2zM1067 354h2v1h-2zM377 355h4v1h-4zM484 355h1v1h-1zM788 355h1v1h-1zM1069 355h1v1h-1zM485 356h1v1h-1zM1070 356h1v1h-1zM787 356h1v2h-1zM486 357h1v1h-1zM1071 357h1v1h-1zM487 358h2v1h-2zM1072 358h1v1h-1zM786 358h1v2h-1zM489 359h1v1h-1zM1073 359h1v1h-1zM490 360h1v1h-1zM785 360h1v1h-1zM1074 360h1v1h-1zM491 361h1v1h-1zM1075 361h1v1h-1zM784 361h1v2h-1zM492 362h1v1h-1zM1076 362h1v1h-1zM493 363h1v1h-1zM783 363h1v1h-1zM1077 363h2v1h-2zM494 364h1v1h-1zM1079 364h1v1h-1zM782 364h1v2h-1zM495 365h1v1h-1zM1080 365h1v1h-1zM1081 366h2v1h-2zM496 366h1v2h-1zM781 366h1v2h-1zM1083 367h1v1h-1zM497 368h1v1h-1zM780 368h1v1h-1zM1084 368h1v1h-1zM498 369h1v1h-1zM1085 369h1v1h-1zM779 369h1v2h-1zM499 370h1v1h-1zM1086 370h1v1h-1zM500 371h1v1h-1zM778 371h1v1h-1zM1087 371h2v1h-2zM1089 372h1v1h-1zM501 372h1v2h-1zM777 372h1v2h-1zM1090 373h1v1h-1zM502 374h1v1h-1zM776 374h1v1h-1zM1091 374h1v1h-1zM503 375h1v1h-1zM1092 375h1v1h-1zM775 375h1v2h-1zM504 376h1v2h-1zM1093 376h1v2h-1zM774 377h1v1h-1zM505 378h1v1h-1zM773 378h1v2h-1zM1094 378h1v2h-1zM506 379h1v1h-1zM772 380h1v1h-1zM1095 380h1v1h-1zM507 380h1v2h-1zM771 381h1v2h-1zM1096 381h1v2h-1zM508 382h1v1h-1zM1097 383h1v1h-1zM509 383h1v2h-1zM770 383h1v2h-1zM1098 384h1v2h-1zM769 385h1v1h-1zM510 385h1v2h-1zM768 386h1v2h-1zM1099 386h1v2h-1zM511 387h1v1h-1zM767 388h1v1h-1zM1100 388h1v1h-1zM512 388h1v2h-1zM766 389h1v2h-1zM1101 389h1v2h-1zM513 390h1v1h-1zM514 391h1v2h-1zM765 391h1v2h-1zM1102 391h1v2h-1zM515 393h1v2h-1zM764 393h1v2h-1zM1103 393h1v2h-1zM516 395h1v1h-1zM1104 395h1v1h-1zM763 395h1v2h-1zM517 396h1v1h-1zM1105 396h1v2h-1zM518 397h1v2h-1zM762 397h1v2h-1zM601 398h5v1h-5zM1106 398h1v2h-1zM519 399h1v1h-1zM596 399h5v1h-5zM606 399h3v1h-3zM761 399h1v2h-1zM520 400h1v1h-1zM594 400h2v1h-2zM609 400h2v1h-2zM1107 400h1v2h-1zM521 401h1v1h-1zM593 401h1v1h-1zM611 401h3v1h-3zM760 401h1v2h-1zM591 402h2v1h-2zM614 402h2v1h-2zM1108 402h1v1h-1zM522 402h1v2h-1zM589 403h2v1h-2zM616 403h2v1h-2zM759 403h1v2h-1zM1109 403h1v2h-1zM523 404h1v1h-1zM588 404h1v1h-1zM618 404h2v1h-2zM524 405h1v1h-1zM587 405h1v1h-1zM620 405h3v1h-3zM1110 405h1v1h-1zM758 405h1v2h-1zM525 406h1v1h-1zM586 406h1v1h-1zM623 406h4v1h-4zM1111 406h1v2h-1zM526 407h1v1h-1zM585 407h1v1h-1zM627 407h4v1h-4zM757 407h1v2h-1zM527 408h1v1h-1zM631 408h4v1h-4zM1112 408h1v1h-1zM584 408h1v2h-1zM635 409h4v1h-4zM528 409h1v2h-1zM756 409h1v2h-1zM1113 409h1v2h-1zM583 410h1v1h-1zM639 410h4v1h-4zM529 411h1v1h-1zM582 411h1v1h-1zM643 411h3v1h-3zM1114 411h1v1h-1zM755 411h1v2h-1zM530 412h1v1h-1zM581 412h1v1h-1zM646 412h2v1h-2zM1115 412h1v2h-1zM531 413h1v1h-1zM580 413h1v1h-1zM648 413h2v1h-2zM754 413h1v2h-1zM532 414h2v1h-2zM579 414h1v1h-1zM650 414h2v1h-2zM1116 414h1v1h-1zM534 415h2v1h-2zM578 415h1v1h-1zM652 415h5v1h-5zM753 415h1v1h-1zM536 416h2v1h-2zM577 416h1v1h-1zM657 416h21v1h-21zM752 416h1v2h-1zM538 417h2v1h-2zM678 417h2v1h-2zM576 417h1v2h-1zM540 418h1v1h-1zM680 418h2v1h-2zM751 418h1v1h-1zM541 419h1v1h-1zM575 419h1v1h-1zM682 419h2v1h-2zM750 419h1v2h-1zM542 420h1v1h-1zM574 420h1v1h-1zM684 420h1v1h-1zM543 421h2v1h-2zM573 421h1v1h-1zM685 421h1v1h-1zM749 421h1v2h-1zM545 422h1v1h-1zM572 422h1v1h-1zM686 422h1v1h-1zM546 423h1v1h-1zM571 423h1v1h-1zM687 423h1v1h-1zM748 423h1v1h-1zM547 424h1v1h-1zM570 424h1v1h-1zM747 424h1v1h-1zM688 424h1v2h-1zM548 425h1v1h-1zM569 425h1v1h-1zM746 425h1v1h-1zM549 426h2v1h-2zM568 426h1v1h-1zM689 426h1v1h-1zM745 426h1v1h-1zM551 427h2v1h-2zM567 427h1v1h-1zM690 427h1v1h-1zM744 427h1v1h-1zM553 428h1v1h-1zM566 428h1v1h-1zM691 428h1v1h-1zM743 428h1v1h-1zM554 429h2v1h-2zM565 429h1v1h-1zM692 429h1v1h-1zM742 429h1v1h-1zM556 430h9v1h-9zM693 430h1v1h-1zM741 430h1v1h-1zM694 431h1v1h-1zM740 431h1v1h-1zM695 432h1v1h-1zM739 432h1v1h-1zM696 433h1v1h-1zM738 433h1v1h-1zM697 434h1v1h-1zM737 434h1v1h-1zM698 435h1v1h-1zM736 435h1v2h-1zM699 436h1v1h-1zM700 437h1v1h-1zM735 437h1v1h-1zM701 438h1v1h-1zM734 438h1v1h-1zM702 439h1v1h-1zM733 439h1v1h-1zM703 440h2v1h-2zM732 440h1v1h-1zM705 441h1v1h-1zM731 441h1v1h-1zM706 442h1v1h-1zM730 442h1v1h-1zM707 443h1v1h-1zM729 443h1v1h-1zM708 444h2v1h-2zM727 444h2v1h-2zM710 445h2v1h-2zM726 445h1v1h-1zM712 446h2v1h-2zM725 446h1v1h-1zM714 447h2v1h-2zM721 447h4v1h-4zM716 448h5v1h-5z" fill="#ff0000"/>
<path d="M908 151h3v1h-3zM911 152h4v1h-4zM907 152h1v2h-1zM915 153h1v1h-1zM916 153h1v2h-1zM906 154h1v2h-1zM917 155h1v2h-1zM905 156h1v2h-1zM918 157h1v2h-1zM904 158h1v2h-1zM919 159h1v3h-1zM903 160h1v2h-1zM108 162h3v1h-3zM902 162h1v2h-1zM920 162h1v2h-1zM107 163h1v1h-1zM111 163h4v1h-4zM106 164h1v1h-1zM115 164h2v1h-2zM901 164h1v2h-1zM921 164h1v3h-1zM105 165h1v1h-1zM117 165h1v2h-1zM104 166h1v1h-1zM900 166h1v2h-1zM103 167h1v1h-1zM118 167h1v1h-1zM922 167h1v2h-1zM102 168h1v1h-1zM119 168h1v1h-1zM899 168h1v3h-1zM101 169h1v1h-1zM120 169h1v2h-1zM923 169h1v2h-1zM100 170h1v1h-1zM98 171h2v1h-2zM121 171h1v1h-1zM924 171h1v3h-1zM898 171h1v4h-1zM96 172h2v1h-2zM122 172h1v1h-1zM94 173h2v1h-2zM123 173h1v2h-1zM92 174h2v1h-2zM925 174h1v3h-1zM90 175h2v1h-2zM124 175h1v1h-1zM897 175h1v3h-1zM89 176h1v1h-1zM125 176h1v2h-1zM87 177h2v1h-2zM926 177h1v2h-1zM85 178h2v1h-2zM126 178h1v2h-1zM896 178h1v3h-1zM84 179h1v1h-1zM927 179h1v3h-1zM83 180h1v1h-1zM127 180h1v2h-1zM82 181h1v1h-1zM895 181h1v3h-1zM81 182h1v1h-1zM128 182h1v2h-1zM928 182h1v3h-1zM80 183h1v2h-1zM129 184h1v2h-1zM894 184h1v4h-1zM79 185h1v1h-1zM929 185h1v3h-1zM78 186h1v1h-1zM130 186h1v2h-1zM77 187h1v1h-1zM76 188h1v2h-1zM131 188h1v2h-1zM930 188h1v2h-1zM893 188h1v3h-1zM75 190h1v2h-1zM132 190h1v3h-1zM931 190h1v3h-1zM892 191h1v4h-1zM236 192h2v1h-2zM74 192h1v2h-1zM235 193h1v1h-1zM238 193h3v1h-3zM932 193h1v3h-1zM133 193h1v4h-1zM241 194h2v1h-2zM234 194h1v2h-1zM73 194h1v3h-1zM243 195h2v1h-2zM891 195h1v4h-1zM233 196h1v1h-1zM245 196h2v1h-2zM933 196h1v2h-1zM232 197h1v1h-1zM247 197h2v1h-2zM72 197h1v2h-1zM134 197h1v4h-1zM231 198h1v1h-1zM249 198h1v1h-1zM934 198h1v2h-1zM250 199h2v1h-2zM230 199h1v2h-1zM71 199h1v3h-1zM890 199h1v4h-1zM252 200h3v1h-3zM935 200h1v2h-1zM229 201h1v1h-1zM255 201h4v1h-4zM135 201h1v4h-1zM259 202h2v1h-2zM70 202h1v2h-1zM228 202h1v2h-1zM936 202h1v2h-1zM261 203h1v1h-1zM889 203h1v4h-1zM69 204h1v2h-1zM227 204h1v2h-1zM262 204h1v2h-1zM937 204h1v2h-1zM136 205h1v4h-1zM263 206h1v1h-1zM68 206h1v2h-1zM938 206h1v2h-1zM226 206h1v3h-1zM264 207h1v1h-1zM888 207h1v5h-1zM265 208h1v1h-1zM67 208h1v2h-1zM939 208h1v2h-1zM225 209h1v2h-1zM266 209h1v2h-1zM137 209h1v4h-1zM66 210h1v2h-1zM940 210h1v3h-1zM267 211h1v1h-1zM224 211h1v3h-1zM65 212h1v1h-1zM268 212h1v2h-1zM887 212h1v4h-1zM64 213h1v2h-1zM941 213h1v2h-1zM138 213h1v4h-1zM223 214h1v2h-1zM269 214h1v2h-1zM63 215h1v1h-1zM942 215h1v2h-1zM62 216h1v2h-1zM222 216h1v3h-1zM270 216h1v3h-1zM886 216h1v4h-1zM943 217h1v2h-1zM139 217h1v4h-1zM61 218h1v2h-1zM221 219h1v2h-1zM271 219h1v2h-1zM944 219h1v3h-1zM60 220h1v1h-1zM885 220h1v4h-1zM59 221h1v1h-1zM220 221h1v3h-1zM272 221h1v3h-1zM140 221h1v4h-1zM58 222h1v1h-1zM945 222h1v2h-1zM57 223h1v1h-1zM56 224h1v2h-1zM273 224h1v2h-1zM946 224h1v2h-1zM219 224h1v3h-1zM884 224h1v5h-1zM141 225h1v4h-1zM55 226h1v1h-1zM947 226h1v2h-1zM274 226h1v3h-1zM54 227h1v1h-1zM218 227h1v3h-1zM53 228h1v1h-1zM948 228h1v3h-1zM52 229h1v1h-1zM275 229h1v2h-1zM142 229h1v4h-1zM883 229h1v4h-1zM51 230h1v1h-1zM217 230h1v3h-1zM50 231h1v1h-1zM276 231h1v4h-1zM949 231h1v4h-1zM49 232h1v1h-1zM48 233h1v2h-1zM216 233h1v2h-1zM143 233h1v4h-1zM882 233h1v5h-1zM47 235h1v1h-1zM215 235h1v3h-1zM950 235h1v3h-1zM277 235h1v4h-1zM46 236h1v1h-1zM45 237h1v1h-1zM144 237h1v4h-1zM44 238h1v1h-1zM214 238h1v3h-1zM951 238h1v4h-1zM881 238h1v5h-1zM43 239h1v2h-1zM278 239h1v5h-1zM42 241h1v2h-1zM213 241h1v3h-1zM145 241h1v4h-1zM952 242h1v3h-1zM41 243h1v2h-1zM880 243h1v4h-1zM212 244h1v3h-1zM279 244h1v4h-1zM40 245h1v1h-1zM146 245h1v4h-1zM953 245h1v4h-1zM39 246h1v2h-1zM211 247h1v2h-1zM879 247h1v5h-1zM38 248h1v2h-1zM280 248h1v5h-1zM210 249h1v3h-1zM954 249h1v3h-1zM147 249h1v4h-1zM37 250h1v2h-1zM804 250h1v2h-1zM803 251h1v1h-1zM36 252h1v1h-1zM802 252h1v2h-1zM805 252h1v2h-1zM209 252h1v3h-1zM955 252h1v4h-1zM878 252h1v5h-1zM34 253h2v1h-2zM148 253h1v3h-1zM281 253h1v4h-1zM32 254h2v1h-2zM801 254h1v1h-1zM806 254h1v2h-1zM30 255h2v1h-2zM800 255h1v1h-1zM208 255h1v2h-1zM28 256h2v1h-2zM799 256h1v1h-1zM807 256h1v2h-1zM149 256h1v3h-1zM956 256h1v4h-1zM27 257h1v2h-1zM798 257h1v2h-1zM207 257h1v3h-1zM877 257h1v4h-1zM282 257h1v5h-1zM808 258h1v2h-1zM4 259h1v1h-1zM26 259h1v1h-1zM797 259h1v1h-1zM150 259h1v4h-1zM5 260h2v1h-2zM25 260h1v1h-1zM796 260h1v1h-1zM809 260h1v2h-1zM206 260h1v3h-1zM957 260h1v4h-1zM7 261h1v1h-1zM795 261h1v1h-1zM24 261h1v2h-1zM876 261h1v5h-1zM8 262h1v1h-1zM794 262h1v1h-1zM810 262h1v2h-1zM283 262h1v4h-1zM9 263h2v1h-2zM23 263h1v1h-1zM793 263h1v1h-1zM205 263h1v2h-1zM151 263h1v3h-1zM11 264h1v1h-1zM22 264h1v1h-1zM792 264h1v2h-1zM811 264h1v2h-1zM958 264h1v4h-1zM12 265h3v1h-3zM21 265h1v2h-1zM204 265h1v3h-1zM15 266h4v1h-4zM791 266h1v1h-1zM812 266h1v2h-1zM152 266h1v3h-1zM284 266h1v5h-1zM875 266h1v6h-1zM19 267h2v1h-2zM790 267h1v1h-1zM789 268h1v1h-1zM203 268h1v3h-1zM813 268h1v3h-1zM959 268h1v4h-1zM788 269h1v2h-1zM153 269h1v3h-1zM787 271h1v2h-1zM202 271h1v3h-1zM814 271h1v4h-1zM285 271h1v5h-1zM154 272h1v4h-1zM960 272h1v4h-1zM874 272h1v5h-1zM786 273h1v2h-1zM201 274h1v3h-1zM785 275h1v2h-1zM815 275h1v3h-1zM155 276h1v3h-1zM286 276h1v4h-1zM961 276h1v4h-1zM200 277h1v2h-1zM784 277h1v2h-1zM873 277h1v5h-1zM420 278h1v1h-1zM816 278h1v3h-1zM419 279h1v1h-1zM421 279h1v1h-1zM783 279h1v2h-1zM156 279h1v3h-1zM199 279h1v3h-1zM417 280h2v1h-2zM422 280h1v1h-1zM962 280h1v4h-1zM287 280h1v5h-1zM416 281h1v1h-1zM423 281h1v1h-1zM782 281h1v2h-1zM817 281h1v3h-1zM415 282h1v1h-1zM157 282h1v2h-1zM424 282h1v2h-1zM198 282h1v3h-1zM872 282h1v6h-1zM413 283h2v1h-2zM781 283h1v2h-1zM412 284h1v1h-1zM425 284h1v1h-1zM158 284h1v3h-1zM818 284h1v4h-1zM963 284h1v4h-1zM411 285h1v1h-1zM426 285h1v1h-1zM197 285h1v3h-1zM780 285h1v3h-1zM288 285h1v5h-1zM410 286h1v1h-1zM427 286h1v1h-1zM409 287h1v1h-1zM428 287h1v1h-1zM159 287h1v2h-1zM407 288h2v1h-2zM429 288h2v1h-2zM196 288h1v3h-1zM819 288h1v3h-1zM779 288h1v4h-1zM964 288h1v4h-1zM871 288h1v5h-1zM406 289h1v1h-1zM431 289h2v1h-2zM160 289h1v3h-1zM405 290h1v1h-1zM433 290h1v1h-1zM289 290h1v5h-1zM404 291h1v1h-1zM434 291h2v1h-2zM195 291h1v3h-1zM820 291h1v3h-1zM436 292h1v1h-1zM161 292h1v2h-1zM403 292h1v2h-1zM778 292h1v4h-1zM965 292h1v4h-1zM437 293h2v1h-2zM870 293h1v5h-1zM439 294h1v1h-1zM402 294h1v2h-1zM821 294h1v2h-1zM162 294h1v3h-1zM194 294h1v3h-1zM440 295h1v1h-1zM290 295h1v4h-1zM441 296h2v1h-2zM401 296h1v2h-1zM822 296h1v2h-1zM777 296h1v4h-1zM966 296h1v4h-1zM443 297h1v1h-1zM163 297h1v2h-1zM193 297h1v3h-1zM444 298h1v1h-1zM400 298h1v2h-1zM823 298h1v3h-1zM869 298h1v6h-1zM445 299h1v2h-1zM164 299h1v3h-1zM291 299h1v5h-1zM192 300h1v2h-1zM399 300h1v2h-1zM776 300h1v4h-1zM967 300h1v4h-1zM446 301h1v2h-1zM824 301h1v2h-1zM165 302h1v2h-1zM398 302h1v2h-1zM191 302h1v3h-1zM447 303h1v2h-1zM825 303h1v3h-1zM166 304h1v2h-1zM397 304h1v2h-1zM968 304h1v3h-1zM292 304h1v4h-1zM775 304h1v4h-1zM868 304h1v4h-1zM448 305h1v2h-1zM190 305h1v3h-1zM167 306h1v2h-1zM396 306h1v2h-1zM826 306h1v2h-1zM449 307h1v2h-1zM969 307h1v4h-1zM168 308h1v2h-1zM293 308h1v2h-1zM395 308h1v2h-1zM827 308h1v2h-1zM189 308h1v3h-1zM774 308h1v4h-1zM867 308h1v4h-1zM450 309h1v2h-1zM169 310h1v2h-1zM294 310h1v2h-1zM394 310h1v2h-1zM828 310h1v3h-1zM180 311h5v1h-5zM188 311h1v2h-1zM451 311h1v2h-1zM970 311h1v4h-1zM178 312h2v1h-2zM185 312h3v1h-3zM170 312h1v2h-1zM295 312h1v2h-1zM393 312h1v2h-1zM773 312h1v4h-1zM866 312h1v4h-1zM177 313h1v1h-1zM829 313h1v2h-1zM452 313h1v3h-1zM175 314h2v1h-2zM171 314h1v2h-1zM296 314h1v2h-1zM392 314h1v3h-1zM173 315h2v1h-2zM830 315h1v3h-1zM971 315h1v4h-1zM172 316h1v1h-1zM297 316h1v2h-1zM453 316h1v4h-1zM865 316h1v4h-1zM772 316h1v5h-1zM391 317h1v2h-1zM298 318h1v2h-1zM831 318h1v3h-1zM390 319h1v2h-1zM972 319h1v3h-1zM299 320h1v2h-1zM864 320h1v3h-1zM454 320h1v4h-1zM389 321h1v2h-1zM832 321h1v2h-1zM771 321h1v5h-1zM973 322h1v2h-1zM300 322h1v3h-1zM388 323h1v2h-1zM833 323h1v3h-1zM863 323h1v4h-1zM974 324h1v2h-1zM455 324h1v4h-1zM301 325h1v2h-1zM387 325h1v2h-1zM975 326h1v2h-1zM834 326h1v3h-1zM770 326h1v5h-1zM302 327h1v2h-1zM386 327h1v2h-1zM862 327h1v4h-1zM976 328h1v3h-1zM456 328h1v4h-1zM303 329h1v2h-1zM385 329h1v2h-1zM835 329h1v2h-1zM304 331h1v2h-1zM384 331h1v2h-1zM977 331h1v2h-1zM836 331h1v3h-1zM861 331h1v4h-1zM769 331h1v5h-1zM457 332h1v4h-1zM1041 333h4v1h-4zM305 333h1v2h-1zM383 333h1v2h-1zM978 333h1v2h-1zM1036 334h5v1h-5zM1045 334h2v1h-2zM837 334h1v2h-1zM1034 335h2v1h-2zM1047 335h1v1h-1zM306 335h1v2h-1zM382 335h1v2h-1zM979 335h1v2h-1zM860 335h1v3h-1zM1032 336h2v1h-2zM1048 336h1v1h-1zM838 336h1v3h-1zM458 336h1v4h-1zM768 336h1v4h-1zM1030 337h2v1h-2zM1049 337h2v1h-2zM307 337h1v2h-1zM381 337h1v2h-1zM980 337h1v2h-1zM1020 338h10v1h-10zM1051 338h1v1h-1zM859 338h1v2h-1zM981 339h1v1h-1zM1019 339h1v1h-1zM1052 339h1v1h-1zM380 339h1v2h-1zM308 339h1v3h-1zM839 339h1v3h-1zM982 340h1v1h-1zM1018 340h1v1h-1zM858 340h1v2h-1zM1053 340h1v2h-1zM459 340h1v4h-1zM767 340h1v5h-1zM378 341h2v1h-2zM983 341h2v1h-2zM1017 341h1v1h-1zM376 342h2v1h-2zM985 342h1v1h-1zM1015 342h2v1h-2zM1054 342h1v1h-1zM840 342h1v2h-1zM857 342h1v2h-1zM309 342h1v3h-1zM374 343h2v1h-2zM986 343h1v1h-1zM1014 343h1v1h-1zM1055 343h1v1h-1zM372 344h2v1h-2zM987 344h1v1h-1zM1013 344h1v1h-1zM1056 344h1v2h-1zM841 344h1v3h-1zM856 344h1v3h-1zM460 344h1v4h-1zM988 345h1v1h-1zM1012 345h1v1h-1zM371 345h1v2h-1zM310 345h1v3h-1zM766 345h1v5h-1zM989 346h2v1h-2zM1011 346h1v1h-1zM1057 346h1v1h-1zM991 347h1v1h-1zM1010 347h1v1h-1zM1058 347h1v1h-1zM370 347h1v2h-1zM855 347h1v2h-1zM842 347h1v3h-1zM992 348h1v1h-1zM1009 348h1v1h-1zM1059 348h1v2h-1zM311 348h1v3h-1zM461 348h1v4h-1zM369 349h1v1h-1zM993 349h2v1h-2zM854 349h1v2h-1zM1008 349h1v2h-1zM995 350h1v1h-1zM1060 350h1v1h-1zM368 350h1v2h-1zM843 350h1v2h-1zM765 350h1v5h-1zM996 351h2v1h-2zM1007 351h1v1h-1zM853 351h1v2h-1zM1061 351h1v2h-1zM312 351h1v3h-1zM367 352h1v1h-1zM998 352h3v1h-3zM1006 352h1v1h-1zM844 352h1v2h-1zM462 352h1v4h-1zM845 353h4v1h-4zM1001 353h2v1h-2zM1005 353h1v1h-1zM366 353h1v2h-1zM852 353h1v2h-1zM1062 353h1v2h-1zM849 354h3v1h-3zM1003 354h2v1h-2zM313 354h1v3h-1zM365 355h1v2h-1zM1063 355h1v2h-1zM764 355h1v4h-1zM463 356h1v4h-1zM364 357h1v1h-1zM1064 357h1v2h-1zM314 357h1v3h-1zM363 358h1v2h-1zM1065 359h1v2h-1zM763 359h1v4h-1zM362 360h1v2h-1zM315 360h1v3h-1zM464 360h1v3h-1zM1066 361h1v2h-1zM361 362h1v2h-1zM316 363h1v2h-1zM1067 363h1v2h-1zM465 363h1v4h-1zM762 363h1v4h-1zM360 364h1v2h-1zM317 365h1v1h-1zM1068 365h1v2h-1zM318 366h1v1h-1zM359 366h1v2h-1zM319 367h2v1h-2zM1069 367h1v2h-1zM466 367h1v4h-1zM761 367h1v4h-1zM321 368h1v1h-1zM358 368h1v2h-1zM322 369h1v1h-1zM1070 369h1v2h-1zM323 370h1v1h-1zM357 370h1v2h-1zM324 371h2v1h-2zM1071 371h1v3h-1zM467 371h1v4h-1zM760 371h1v4h-1zM326 372h2v1h-2zM356 372h1v1h-1zM328 373h2v1h-2zM355 373h1v1h-1zM330 374h2v1h-2zM353 374h2v1h-2zM1072 374h1v2h-1zM332 375h2v1h-2zM352 375h1v1h-1zM468 375h1v3h-1zM759 375h1v4h-1zM334 376h3v1h-3zM351 376h1v1h-1zM1073 376h1v3h-1zM337 377h2v1h-2zM349 377h2v1h-2zM339 378h10v1h-10zM469 378h1v4h-1zM604 379h2v1h-2zM1074 379h1v2h-1zM758 379h1v4h-1zM602 380h2v1h-2zM606 380h2v1h-2zM600 381h2v1h-2zM608 381h2v1h-2zM1075 381h1v2h-1zM598 382h2v1h-2zM610 382h2v1h-2zM470 382h1v3h-1zM588 383h10v1h-10zM612 383h1v1h-1zM1076 383h1v3h-1zM757 383h1v4h-1zM587 384h1v1h-1zM613 384h1v2h-1zM586 385h1v2h-1zM471 385h1v4h-1zM614 386h1v2h-1zM1077 386h1v2h-1zM585 387h1v1h-1zM756 387h1v4h-1zM584 388h1v1h-1zM615 388h1v2h-1zM1078 388h1v2h-1zM583 389h1v1h-1zM472 389h1v3h-1zM616 390h1v1h-1zM582 390h1v2h-1zM1079 390h1v2h-1zM617 391h1v2h-1zM755 391h1v4h-1zM581 392h1v1h-1zM1080 392h1v2h-1zM473 392h1v4h-1zM580 393h1v1h-1zM618 393h1v2h-1zM579 394h1v1h-1zM1081 394h1v2h-1zM578 395h1v2h-1zM619 395h1v2h-1zM754 395h1v4h-1zM1082 396h1v2h-1zM474 396h1v3h-1zM577 397h1v1h-1zM620 397h1v1h-1zM576 398h1v1h-1zM621 398h1v2h-1zM1083 398h1v2h-1zM575 399h1v1h-1zM753 399h1v3h-1zM475 399h1v4h-1zM574 400h1v2h-1zM622 400h1v2h-1zM1084 400h1v2h-1zM573 402h1v1h-1zM623 402h1v1h-1zM1085 402h1v2h-1zM752 402h1v4h-1zM572 403h1v1h-1zM624 403h1v2h-1zM476 403h1v3h-1zM571 404h1v2h-1zM1086 404h1v2h-1zM625 405h1v1h-1zM570 406h1v1h-1zM477 406h1v2h-1zM626 406h1v2h-1zM1087 406h1v2h-1zM751 406h1v3h-1zM569 407h1v1h-1zM478 408h1v2h-1zM568 408h1v2h-1zM627 408h1v2h-1zM1088 408h1v2h-1zM750 409h1v4h-1zM567 410h1v1h-1zM628 410h1v1h-1zM479 410h1v2h-1zM1089 410h1v2h-1zM566 411h1v1h-1zM629 411h1v2h-1zM480 412h1v2h-1zM565 412h1v2h-1zM1090 412h1v2h-1zM545 413h5v1h-5zM630 413h1v2h-1zM749 413h1v4h-1zM540 414h5v1h-5zM550 414h3v1h-3zM563 414h2v1h-2zM481 414h1v2h-1zM1091 414h1v2h-1zM553 415h2v1h-2zM559 415h4v1h-4zM539 415h1v2h-1zM631 415h1v2h-1zM555 416h4v1h-4zM482 416h1v2h-1zM1092 416h1v2h-1zM538 417h1v1h-1zM632 417h1v2h-1zM748 417h1v2h-1zM537 418h1v1h-1zM483 418h1v2h-1zM1093 418h1v4h-1zM536 419h1v2h-1zM633 419h1v2h-1zM747 419h1v2h-1zM484 420h1v2h-1zM535 421h1v1h-1zM746 421h1v1h-1zM634 421h1v2h-1zM534 422h1v1h-1zM745 422h1v1h-1zM485 422h1v2h-1zM1094 422h1v4h-1zM533 423h1v2h-1zM635 423h1v2h-1zM744 423h1v2h-1zM486 424h1v2h-1zM532 425h1v1h-1zM636 425h1v1h-1zM743 425h1v1h-1zM531 426h1v1h-1zM742 426h1v1h-1zM487 426h1v2h-1zM637 426h1v2h-1zM1095 426h1v3h-1zM529 427h2v1h-2zM741 427h1v2h-1zM488 428h1v1h-1zM528 428h1v1h-1zM638 428h1v2h-1zM527 429h1v1h-1zM740 429h1v1h-1zM489 429h1v2h-1zM1096 429h1v4h-1zM525 430h2v1h-2zM639 430h1v1h-1zM689 430h4v1h-4zM739 430h1v2h-1zM524 431h1v1h-1zM684 431h5v1h-5zM693 431h2v1h-2zM490 431h1v2h-1zM640 431h1v2h-1zM682 432h2v1h-2zM695 432h1v1h-1zM738 432h1v1h-1zM523 432h1v2h-1zM641 433h1v1h-1zM681 433h1v1h-1zM696 433h1v1h-1zM491 433h1v2h-1zM737 433h1v2h-1zM1097 433h1v3h-1zM522 434h1v1h-1zM679 434h2v1h-2zM697 434h2v1h-2zM642 434h1v2h-1zM492 435h1v1h-1zM521 435h1v1h-1zM677 435h2v1h-2zM699 435h1v1h-1zM736 435h1v1h-1zM493 436h1v1h-1zM676 436h1v1h-1zM700 436h1v1h-1zM520 436h1v2h-1zM643 436h1v2h-1zM735 436h1v2h-1zM1098 436h1v4h-1zM494 437h1v1h-1zM675 437h1v1h-1zM701 437h2v1h-2zM495 438h1v1h-1zM519 438h1v1h-1zM644 438h1v1h-1zM674 438h1v1h-1zM703 438h2v1h-2zM734 438h1v1h-1zM496 439h1v1h-1zM518 439h1v1h-1zM673 439h1v1h-1zM705 439h1v1h-1zM645 439h1v2h-1zM733 439h1v2h-1zM497 440h1v1h-1zM672 440h1v1h-1zM706 440h2v1h-2zM517 440h1v2h-1zM1099 440h1v4h-1zM498 441h1v1h-1zM646 441h1v1h-1zM671 441h1v1h-1zM708 441h2v1h-2zM732 441h1v1h-1zM499 442h1v1h-1zM516 442h1v1h-1zM647 442h1v1h-1zM670 442h1v1h-1zM710 442h3v1h-3zM731 442h1v1h-1zM500 443h2v1h-2zM514 443h2v1h-2zM669 443h1v1h-1zM713 443h2v1h-2zM648 443h1v2h-1zM730 443h1v2h-1zM502 444h2v1h-2zM513 444h1v1h-1zM668 444h1v1h-1zM715 444h2v1h-2zM1100 444h1v3h-1zM504 445h2v1h-2zM511 445h2v1h-2zM649 445h1v1h-1zM667 445h1v1h-1zM717 445h1v1h-1zM729 445h1v1h-1zM506 446h2v1h-2zM509 446h2v1h-2zM650 446h1v1h-1zM666 446h1v1h-1zM718 446h1v1h-1zM728 446h1v1h-1zM508 447h1v1h-1zM665 447h1v1h-1zM719 447h2v1h-2zM727 447h1v1h-1zM651 447h1v2h-1zM1101 447h1v2h-1zM721 448h1v1h-1zM664 448h1v2h-1zM726 448h1v2h-1zM652 449h2v1h-2zM722 449h1v1h-1zM1102 449h1v2h-1zM654 450h2v1h-2zM663 450h1v1h-1zM723 450h1v1h-1zM725 450h1v1h-1zM656 451h2v1h-2zM662 451h1v1h-1zM724 451h1v1h-1zM1103 451h1v3h-1zM658 452h2v1h-2zM661 452h1v1h-1zM660 453h1v1h-1zM1104 454h1v2h-1zM1105 456h1v3h-1zM1106 459h1v2h-1zM1107 461h1v2h-1zM1108 463h1v3h-1zM1109 466h1v2h-1zM1110 468h1v2h-1zM1111 470h1v2h-1zM1112 472h1v2h-1zM1113 474h1v2h-1zM1114 476h1v2h-1zM1115 478h1v2h-1zM1116 480h1v1h-1z" fill="#0000c8"/>
</g>
<polygon points="1129,23 1140,23 1134.5,28.5" fill="#c0c0c0" shape-rendering="auto"/>
<rect x="3" y="22" width="1417" height="1" fill="#000" />
<rect x="3" y="561" width="1417" height="1" fill="#000" />
<rect x="3" y="22" width="1" height="540" fill="#000" />
<rect x="1419" y="22" width="1" height="540" fill="#000" />
<rect x="3" y="563" width="1417" height="1" fill="#000" />
<rect x="3" y="666" width="1417" height="1" fill="#000" />
<rect x="3" y="563" width="1" height="104" fill="#000" />
<rect x="1419" y="563" width="1" height="104" fill="#000" />
<rect x="3" y="668" width="1417" height="1" fill="#000" />
<rect x="3" y="798" width="1417" height="1" fill="#000" />
<rect x="3" y="668" width="1" height="131" fill="#000" />
<rect x="1419" y="668" width="1" height="131" fill="#000" />
</g>
<g shape-rendering="crispEdges">
<rect x="1420" y="30" width="2" height="1" fill="#000" />
<rect x="1420" y="63" width="2" height="1" fill="#000" />
<rect x="1420" y="96" width="2" height="1" fill="#000" />
<rect x="1420" y="129" width="2" height="1" fill="#000" />
<rect x="1420" y="162" width="2" height="1" fill="#000" />
<rect x="1420" y="195" width="2" height="1" fill="#000" />
<rect x="1420" y="228" width="2" height="1" fill="#000" />
<rect x="1420" y="261" width="2" height="1" fill="#000" />
<rect x="1420" y="294" width="2" height="1" fill="#000" />
<rect x="1420" y="327" width="2" height="1" fill="#000" />
<rect x="1420" y="360" width="2" height="1" fill="#000" />
<rect x="1420" y="393" width="2" height="1" fill="#000" />
<rect x="1420" y="426" width="2" height="1" fill="#000" />
<rect x="1420" y="459" width="2" height="1" fill="#000" />
<rect x="1420" y="492" width="2" height="1" fill="#000" />
<rect x="1420" y="525" width="2" height="1" fill="#000" />
<rect x="1420" y="558" width="2" height="1" fill="#000" />
</g>
<text x="1425.4" y="34" font-size="9.8" fill="#000" textLength="33" lengthAdjust="spacingAndGlyphs" stroke="#000" stroke-width="0.15" >1.14605</text>
<text x="1425.4" y="67" font-size="9.8" fill="#000" textLength="33" lengthAdjust="spacingAndGlyphs" stroke="#000" stroke-width="0.15" >1.14375</text>
<text x="1425.4" y="100" font-size="9.8" fill="#000" textLength="33" lengthAdjust="spacingAndGlyphs" stroke="#000" stroke-width="0.15" >1.14145</text>
<text x="1425.4" y="133" font-size="9.8" fill="#000" textLength="33" lengthAdjust="spacingAndGlyphs" stroke="#000" stroke-width="0.15" >1.13915</text>
<text x="1425.4" y="166" font-size="9.8" fill="#000" textLength="33" lengthAdjust="spacingAndGlyphs" stroke="#000" stroke-width="0.15" >1.13685</text>
<text x="1425.4" y="199" font-size="9.8" fill="#000" textLength="33" lengthAdjust="spacingAndGlyphs" stroke="#000" stroke-width="0.15" >1.13455</text>
<text x="1425.4" y="232" font-size="9.8" fill="#000" textLength="33" lengthAdjust="spacingAndGlyphs" stroke="#000" stroke-width="0.15" >1.13225</text>
<text x="1425.4" y="265" font-size="9.8" fill="#000" textLength="33" lengthAdjust="spacingAndGlyphs" stroke="#000" stroke-width="0.15" >1.12995</text>
<text x="1425.4" y="298" font-size="9.8" fill="#000" textLength="33" lengthAdjust="spacingAndGlyphs" stroke="#000" stroke-width="0.15" >1.12765</text>
<text x="1425.4" y="331" font-size="9.8" fill="#000" textLength="33" lengthAdjust="spacingAndGlyphs" stroke="#000" stroke-width="0.15" >1.12535</text>
<text x="1425.4" y="364" font-size="9.8" fill="#000" textLength="33" lengthAdjust="spacingAndGlyphs" stroke="#000" stroke-width="0.15" >1.12305</text>
<text x="1425.4" y="397" font-size="9.8" fill="#000" textLength="33" lengthAdjust="spacingAndGlyphs" stroke="#000" stroke-width="0.15" >1.12075</text>
<text x="1425.4" y="430" font-size="9.8" fill="#000" textLength="33" lengthAdjust="spacingAndGlyphs" stroke="#000" stroke-width="0.15" >1.11845</text>
<text x="1425.4" y="463" font-size="9.8" fill="#000" textLength="33" lengthAdjust="spacingAndGlyphs" stroke="#000" stroke-width="0.15" >1.11615</text>
<text x="1425.4" y="496" font-size="9.8" fill="#000" textLength="33" lengthAdjust="spacingAndGlyphs" stroke="#000" stroke-width="0.15" >1.11385</text>
<text x="1425.4" y="529" font-size="9.8" fill="#000" textLength="33" lengthAdjust="spacingAndGlyphs" stroke="#000" stroke-width="0.15" >1.11155</text>
<text x="1425.4" y="562" font-size="9.8" fill="#000" textLength="33" lengthAdjust="spacingAndGlyphs" stroke="#000" stroke-width="0.15" >1.10925</text>
<g shape-rendering="crispEdges">
<rect x="4" y="115" width="1416" height="3" fill="#ff0000" />
<rect x="1421" y="110" width="41" height="11" fill="#ff0000" />
<rect x="4" y="281" width="1416" height="3" fill="#ff0000" />
<rect x="3" y="279" width="7" height="7" fill="#ff0000" />
<rect x="6" y="282" width="1" height="1" fill="#fff" />
<rect x="1413" y="279" width="7" height="7" fill="#ff0000" />
<rect x="1416" y="282" width="1" height="1" fill="#fff" />
<rect x="1421" y="276" width="41" height="11" fill="#ff0000" />
<rect x="4" y="417" width="1416" height="3" fill="#00ff00" />
<rect x="3" y="415" width="7" height="7" fill="#00ff00" />
<rect x="6" y="418" width="1" height="1" fill="#fff" />
<rect x="1413" y="415" width="7" height="7" fill="#00ff00" />
<rect x="1416" y="418" width="1" height="1" fill="#fff" />
<rect x="1421" y="412" width="41" height="11" fill="#00ff00" />
<rect x="4" y="547" width="1416" height="3" fill="#0000ff" />
<rect x="3" y="545" width="7" height="7" fill="#0000ff" />
<rect x="6" y="548" width="1" height="1" fill="#fff" />
<rect x="1413" y="545" width="7" height="7" fill="#0000ff" />
<rect x="1416" y="548" width="1" height="1" fill="#fff" />
<rect x="1421" y="542" width="41" height="11" fill="#0000ff" />
<rect x="1419" y="497" width="2" height="1" fill="#c0c0c0" />
<rect x="1421" y="492" width="41" height="11" fill="#000" />
</g>
<text x="1425.6" y="119" font-size="9.8" fill="#fff" textLength="32.5" lengthAdjust="spacingAndGlyphs" stroke="#fff" stroke-width="0.15" >1.14009</text>
<text x="1425.6" y="285" font-size="9.8" fill="#fff" textLength="32.5" lengthAdjust="spacingAndGlyphs" stroke="#fff" stroke-width="0.15" >1.12851</text>
<text x="1425.6" y="421" font-size="9.8" fill="#fff" textLength="32.5" lengthAdjust="spacingAndGlyphs" stroke="#fff" stroke-width="0.15" >1.11901</text>
<text x="1425.6" y="551" font-size="9.8" fill="#fff" textLength="32.5" lengthAdjust="spacingAndGlyphs" stroke="#fff" stroke-width="0.15" >1.11000</text>
<text x="1425.6" y="501" font-size="9.8" fill="#fff" textLength="32.5" lengthAdjust="spacingAndGlyphs" stroke="#fff" stroke-width="0.15" >1.11353</text>
<g shape-rendering="crispEdges">
<rect x="4" y="617" width="1" height="40" fill="#c0c0c0" />
<rect x="12" y="617" width="1" height="41" fill="#c0c0c0" />
<rect x="20" y="617" width="1" height="39" fill="#c0c0c0" />
<rect x="28" y="617" width="1" height="34" fill="#c0c0c0" />
<rect x="36" y="617" width="1" height="29" fill="#c0c0c0" />
<rect x="44" y="617" width="1" height="27" fill="#c0c0c0" />
<rect x="52" y="617" width="1" height="24" fill="#c0c0c0" />
<rect x="60" y="617" width="1" height="21" fill="#c0c0c0" />
<rect x="68" y="617" width="1" height="17" fill="#c0c0c0" />
<rect x="76" y="617" width="1" height="10" fill="#c0c0c0" />
<rect x="84" y="617" width="1" height="6" fill="#c0c0c0" />
<rect x="92" y="617" width="1" height="4" fill="#c0c0c0" />
<rect x="100" y="617" width="1" height="4" fill="#c0c0c0" />
<rect x="108" y="617" width="1" height="2" fill="#c0c0c0" />
<rect x="116" y="617" width="1" height="4" fill="#c0c0c0" />
<rect x="124" y="617" width="1" height="8" fill="#c0c0c0" />
<rect x="132" y="617" width="1" height="10" fill="#c0c0c0" />
<rect x="140" y="617" width="1" height="23" fill="#c0c0c0" />
<rect x="148" y="617" width="1" height="30" fill="#c0c0c0" />
<rect x="156" y="617" width="1" height="35" fill="#c0c0c0" />
<rect x="164" y="617" width="1" height="36" fill="#c0c0c0" />
<rect x="172" y="617" width="1" height="34" fill="#c0c0c0" />
<rect x="180" y="617" width="1" height="28" fill="#c0c0c0" />
<rect x="188" y="617" width="1" height="24" fill="#c0c0c0" />
<rect x="196" y="617" width="1" height="20" fill="#c0c0c0" />
<rect x="204" y="617" width="1" height="17" fill="#c0c0c0" />
<rect x="212" y="617" width="1" height="12" fill="#c0c0c0" />
<rect x="220" y="617" width="1" height="8" fill="#c0c0c0" />
<rect x="228" y="614" width="1" height="4" fill="#c0c0c0" />
<rect x="236" y="611" width="1" height="7" fill="#c0c0c0" />
<rect x="244" y="616" width="1" height="2" fill="#c0c0c0" />
<rect x="260" y="617" width="1" height="2" fill="#c0c0c0" />
<rect x="268" y="617" width="1" height="6" fill="#c0c0c0" />
<rect x="276" y="617" width="1" height="12" fill="#c0c0c0" />
<rect x="284" y="617" width="1" height="19" fill="#c0c0c0" />
<rect x="292" y="617" width="1" height="26" fill="#c0c0c0" />
<rect x="300" y="617" width="1" height="30" fill="#c0c0c0" />
<rect x="308" y="617" width="1" height="34" fill="#c0c0c0" />
<rect x="316" y="617" width="1" height="37" fill="#c0c0c0" />
<rect x="324" y="617" width="1" height="35" fill="#c0c0c0" />
<rect x="332" y="617" width="1" height="36" fill="#c0c0c0" />
<rect x="340" y="617" width="1" height="36" fill="#c0c0c0" />
<rect x="348" y="617" width="1" height="36" fill="#c0c0c0" />
<rect x="356" y="617" width="1" height="32" fill="#c0c0c0" />
<rect x="364" y="617" width="1" height="27" fill="#c0c0c0" />
<rect x="372" y="617" width="1" height="22" fill="#c0c0c0" />
<rect x="380" y="617" width="1" height="20" fill="#c0c0c0" />
<rect x="388" y="617" width="1" height="14" fill="#c0c0c0" />
<rect x="396" y="617" width="1" height="8" fill="#c0c0c0" />
<rect x="404" y="617" width="1" height="4" fill="#c0c0c0" />
<rect x="412" y="617" width="1" height="4" fill="#c0c0c0" />
<rect x="428" y="617" width="1" height="6" fill="#c0c0c0" />
<rect x="436" y="617" width="1" height="8" fill="#c0c0c0" />
<rect x="444" y="617" width="1" height="8" fill="#c0c0c0" />
<rect x="452" y="617" width="1" height="10" fill="#c0c0c0" />
<rect x="460" y="617" width="1" height="20" fill="#c0c0c0" />
<rect x="468" y="617" width="1" height="29" fill="#c0c0c0" />
<rect x="476" y="617" width="1" height="34" fill="#c0c0c0" />
<rect x="484" y="617" width="1" height="37" fill="#c0c0c0" />
<rect x="492" y="617" width="1" height="37" fill="#c0c0c0" />
<rect x="500" y="617" width="1" height="33" fill="#c0c0c0" />
<rect x="508" y="617" width="1" height="30" fill="#c0c0c0" />
<rect x="516" y="617" width="1" height="29" fill="#c0c0c0" />
<rect x="524" y="617" width="1" height="29" fill="#c0c0c0" />
<rect x="532" y="617" width="1" height="29" fill="#c0c0c0" />
<rect x="540" y="617" width="1" height="26" fill="#c0c0c0" />
<rect x="548" y="617" width="1" height="24" fill="#c0c0c0" />
<rect x="556" y="617" width="1" height="22" fill="#c0c0c0" />
<rect x="564" y="617" width="1" height="19" fill="#c0c0c0" />
<rect x="572" y="617" width="1" height="15" fill="#c0c0c0" />
<rect x="580" y="617" width="1" height="11" fill="#c0c0c0" />
<rect x="588" y="617" width="1" height="8" fill="#c0c0c0" />
<rect x="596" y="617" width="1" height="8" fill="#c0c0c0" />
<rect x="604" y="617" width="1" height="8" fill="#c0c0c0" />
<rect x="612" y="617" width="1" height="11" fill="#c0c0c0" />
<rect x="620" y="617" width="1" height="14" fill="#c0c0c0" />
<rect x="628" y="617" width="1" height="17" fill="#c0c0c0" />
<rect x="636" y="617" width="1" height="18" fill="#c0c0c0" />
<rect x="644" y="617" width="1" height="19" fill="#c0c0c0" />
<rect x="652" y="617" width="1" height="21" fill="#c0c0c0" />
<rect x="660" y="617" width="1" height="19" fill="#c0c0c0" />
<rect x="668" y="617" width="1" height="15" fill="#c0c0c0" />
<rect x="676" y="617" width="1" height="12" fill="#c0c0c0" />
<rect x="684" y="617" width="1" height="10" fill="#c0c0c0" />
<rect x="692" y="617" width="1" height="12" fill="#c0c0c0" />
<rect x="700" y="617" width="1" height="16" fill="#c0c0c0" />
<rect x="708" y="617" width="1" height="18" fill="#c0c0c0" />
<rect x="716" y="617" width="1" height="18" fill="#c0c0c0" />
<rect x="724" y="617" width="1" height="15" fill="#c0c0c0" />
<rect x="732" y="617" width="1" height="8" fill="#c0c0c0" />
<rect x="748" y="615" width="1" height="3" fill="#c0c0c0" />
<rect x="756" y="608" width="1" height="10" fill="#c0c0c0" />
<rect x="764" y="597" width="1" height="21" fill="#c0c0c0" />
<rect x="772" y="590" width="1" height="28" fill="#c0c0c0" />
<rect x="780" y="585" width="1" height="33" fill="#c0c0c0" />
<rect x="788" y="581" width="1" height="37" fill="#c0c0c0" />
<rect x="796" y="581" width="1" height="37" fill="#c0c0c0" />
<rect x="804" y="583" width="1" height="35" fill="#c0c0c0" />
<rect x="812" y="592" width="1" height="26" fill="#c0c0c0" />
<rect x="820" y="598" width="1" height="20" fill="#c0c0c0" />
<rect x="828" y="602" width="1" height="16" fill="#c0c0c0" />
<rect x="836" y="609" width="1" height="9" fill="#c0c0c0" />
<rect x="844" y="610" width="1" height="8" fill="#c0c0c0" />
<rect x="852" y="606" width="1" height="12" fill="#c0c0c0" />
<rect x="860" y="595" width="1" height="23" fill="#c0c0c0" />
<rect x="868" y="586" width="1" height="32" fill="#c0c0c0" />
<rect x="876" y="578" width="1" height="40" fill="#c0c0c0" />
<rect x="884" y="575" width="1" height="43" fill="#c0c0c0" />
<rect x="892" y="572" width="1" height="46" fill="#c0c0c0" />
<rect x="900" y="571" width="1" height="47" fill="#c0c0c0" />
<rect x="908" y="570" width="1" height="48" fill="#c0c0c0" />
<rect x="916" y="572" width="1" height="46" fill="#c0c0c0" />
<rect x="924" y="580" width="1" height="38" fill="#c0c0c0" />
<rect x="932" y="587" width="1" height="31" fill="#c0c0c0" />
<rect x="940" y="593" width="1" height="25" fill="#c0c0c0" />
<rect x="948" y="598" width="1" height="20" fill="#c0c0c0" />
<rect x="956" y="608" width="1" height="10" fill="#c0c0c0" />
<rect x="964" y="616" width="1" height="2" fill="#c0c0c0" />
<rect x="972" y="617" width="1" height="6" fill="#c0c0c0" />
<rect x="980" y="617" width="1" height="12" fill="#c0c0c0" />
<rect x="988" y="617" width="1" height="12" fill="#c0c0c0" />
<rect x="996" y="617" width="1" height="13" fill="#c0c0c0" />
<rect x="1004" y="617" width="1" height="11" fill="#c0c0c0" />
<rect x="1012" y="617" width="1" height="10" fill="#c0c0c0" />
<rect x="1020" y="617" width="1" height="10" fill="#c0c0c0" />
<rect x="1028" y="617" width="1" height="14" fill="#c0c0c0" />
<rect x="1036" y="617" width="1" height="16" fill="#c0c0c0" />
<rect x="1044" y="617" width="1" height="13" fill="#c0c0c0" />
<rect x="1052" y="617" width="1" height="16" fill="#c0c0c0" />
<rect x="1060" y="617" width="1" height="18" fill="#c0c0c0" />
<rect x="1068" y="617" width="1" height="20" fill="#c0c0c0" />
<rect x="1076" y="617" width="1" height="27" fill="#c0c0c0" />
<rect x="1084" y="617" width="1" height="33" fill="#c0c0c0" />
<rect x="1092" y="617" width="1" height="37" fill="#c0c0c0" />
<rect x="1100" y="617" width="1" height="41" fill="#c0c0c0" />
<rect x="1108" y="617" width="1" height="44" fill="#c0c0c0" />
<rect x="1116" y="617" width="1" height="44" fill="#c0c0c0" />
<path d="M929 576h2v1h-2zM934 576h3v1h-3zM940 576h2v1h-2zM923 577h2v1h-2zM928 577h1v1h-1zM942 577h1v1h-1zM922 578h1v1h-1zM916 579h3v1h-3zM946 579h2v1h-2zM948 580h1v1h-1zM952 581h1v1h-1zM911 582h2v1h-2zM953 582h2v1h-2zM910 583h1v1h-1zM958 584h2v1h-2zM906 585h1v1h-1zM960 585h1v1h-1zM904 586h2v1h-2zM964 587h1v1h-1zM899 588h2v1h-2zM965 588h2v1h-2zM826 589h3v1h-3zM898 589h1v1h-1zM820 590h3v1h-3zM832 590h3v1h-3zM894 590h1v1h-1zM815 591h2v1h-2zM838 591h1v1h-1zM892 591h2v1h-2zM970 591h1v1h-1zM814 592h1v1h-1zM839 592h2v1h-2zM971 592h1v1h-1zM809 593h2v1h-2zM844 593h3v1h-3zM886 593h3v1h-3zM972 593h1v1h-1zM808 594h1v1h-1zM850 594h1v1h-1zM804 595h1v1h-1zM851 595h2v1h-2zM880 595h3v1h-3zM802 596h2v1h-2zM856 596h3v1h-3zM874 596h3v1h-3zM976 596h1v1h-1zM862 597h3v1h-3zM868 597h3v1h-3zM977 597h1v1h-1zM798 598h1v1h-1zM978 598h1v1h-1zM796 599h2v1h-2zM792 602h1v1h-1zM982 602h1v1h-1zM791 603h1v1h-1zM983 603h2v1h-2zM790 604h1v1h-1zM785 607h2v1h-2zM988 607h1v1h-1zM784 608h1v1h-1zM989 608h2v1h-2zM780 611h1v1h-1zM994 611h2v1h-2zM778 612h2v1h-2zM996 612h1v1h-1zM1000 614h2v1h-2zM773 615h2v1h-2zM1002 615h1v1h-1zM772 616h1v1h-1zM1006 617h2v1h-2zM1008 618h1v1h-1zM768 619h1v1h-1zM274 620h3v1h-3zM280 620h1v1h-1zM767 620h1v1h-1zM1012 620h2v1h-2zM268 621h3v1h-3zM281 621h2v1h-2zM766 621h1v1h-1zM1014 621h1v1h-1zM262 622h3v1h-3zM286 622h3v1h-3zM256 623h3v1h-3zM761 623h2v1h-2zM1018 623h2v1h-2zM251 624h2v1h-2zM292 624h3v1h-3zM443 624h2v1h-2zM448 624h3v1h-3zM454 624h3v1h-3zM460 624h2v1h-2zM760 624h1v1h-1zM1020 624h1v1h-1zM130 625h3v1h-3zM136 625h1v1h-1zM250 625h1v1h-1zM298 625h1v1h-1zM442 625h1v1h-1zM462 625h1v1h-1zM755 625h2v1h-2zM1024 625h3v1h-3zM124 626h3v1h-3zM137 626h2v1h-2zM142 626h1v1h-1zM246 626h1v1h-1zM299 626h2v1h-2zM436 626h3v1h-3zM466 626h1v1h-1zM754 626h1v1h-1zM1030 626h1v1h-1zM118 627h3v1h-3zM143 627h2v1h-2zM244 627h2v1h-2zM431 627h2v1h-2zM467 627h2v1h-2zM748 627h3v1h-3zM1031 627h2v1h-2zM113 628h2v1h-2zM148 628h2v1h-2zM304 628h1v1h-1zM430 628h1v1h-1zM472 628h1v1h-1zM634 628h3v1h-3zM743 628h2v1h-2zM1036 628h3v1h-3zM112 629h1v1h-1zM150 629h1v1h-1zM305 629h1v1h-1zM425 629h2v1h-2zM473 629h2v1h-2zM617 629h2v1h-2zM622 629h3v1h-3zM628 629h3v1h-3zM640 629h3v1h-3zM737 629h2v1h-2zM742 629h1v1h-1zM1042 629h3v1h-3zM1048 629h1v1h-1zM107 630h2v1h-2zM154 630h1v1h-1zM239 630h2v1h-2zM306 630h1v1h-1zM424 630h1v1h-1zM611 630h2v1h-2zM616 630h1v1h-1zM646 630h3v1h-3zM730 630h3v1h-3zM736 630h1v1h-1zM1049 630h2v1h-2zM1054 630h3v1h-3zM1060 630h3v1h-3zM106 631h1v1h-1zM155 631h2v1h-2zM238 631h1v1h-1zM420 631h1v1h-1zM478 631h3v1h-3zM610 631h1v1h-1zM652 631h3v1h-3zM658 631h3v1h-3zM664 631h1v1h-1zM724 631h3v1h-3zM1066 631h3v1h-3zM1072 631h1v1h-1zM102 632h1v1h-1zM160 632h1v1h-1zM310 632h1v1h-1zM418 632h2v1h-2zM606 632h1v1h-1zM665 632h2v1h-2zM670 632h3v1h-3zM676 632h3v1h-3zM682 632h3v1h-3zM688 632h3v1h-3zM694 632h3v1h-3zM700 632h3v1h-3zM706 632h3v1h-3zM712 632h3v1h-3zM718 632h3v1h-3zM1073 632h2v1h-2zM100 633h2v1h-2zM161 633h2v1h-2zM234 633h1v1h-1zM311 633h2v1h-2zM484 633h2v1h-2zM604 633h2v1h-2zM1078 633h3v1h-3zM232 634h2v1h-2zM414 634h1v1h-1zM486 634h1v1h-1zM599 634h2v1h-2zM96 635h1v1h-1zM166 635h3v1h-3zM412 635h2v1h-2zM598 635h1v1h-1zM1084 635h2v1h-2zM94 636h2v1h-2zM228 636h1v1h-1zM316 636h2v1h-2zM490 636h2v1h-2zM592 636h3v1h-3zM1086 636h1v1h-1zM172 637h2v1h-2zM226 637h2v1h-2zM318 637h1v1h-1zM406 637h3v1h-3zM492 637h1v1h-1zM587 637h2v1h-2zM1090 637h1v1h-1zM89 638h2v1h-2zM174 638h1v1h-1zM322 638h1v1h-1zM496 638h1v1h-1zM586 638h1v1h-1zM1091 638h2v1h-2zM88 639h1v1h-1zM178 639h1v1h-1zM222 639h1v1h-1zM323 639h2v1h-2zM402 639h1v1h-1zM497 639h2v1h-2zM580 639h3v1h-3zM1096 639h1v1h-1zM4 640h2v1h-2zM83 640h2v1h-2zM179 640h2v1h-2zM220 640h2v1h-2zM400 640h2v1h-2zM575 640h2v1h-2zM1097 640h2v1h-2zM6 641h1v1h-1zM82 641h1v1h-1zM184 641h3v1h-3zM215 641h2v1h-2zM328 641h1v1h-1zM502 641h3v1h-3zM574 641h1v1h-1zM1102 641h1v1h-1zM78 642h1v1h-1zM190 642h3v1h-3zM214 642h1v1h-1zM329 642h1v1h-1zM395 642h2v1h-2zM568 642h3v1h-3zM1103 642h2v1h-2zM10 643h2v1h-2zM76 643h2v1h-2zM196 643h3v1h-3zM208 643h3v1h-3zM330 643h1v1h-1zM394 643h1v1h-1zM508 643h2v1h-2zM563 643h2v1h-2zM1108 643h1v1h-1zM12 644h1v1h-1zM202 644h3v1h-3zM334 644h1v1h-1zM390 644h1v1h-1zM510 644h1v1h-1zM562 644h1v1h-1zM1109 644h2v1h-2zM16 645h1v1h-1zM72 645h1v1h-1zM335 645h2v1h-2zM388 645h2v1h-2zM514 645h1v1h-1zM558 645h1v1h-1zM17 646h2v1h-2zM70 646h2v1h-2zM340 646h2v1h-2zM383 646h2v1h-2zM515 646h2v1h-2zM520 646h1v1h-1zM556 646h2v1h-2zM342 647h1v1h-1zM382 647h1v1h-1zM521 647h2v1h-2zM526 647h3v1h-3zM545 647h2v1h-2zM550 647h3v1h-3zM1114 647h2v1h-2zM22 648h3v1h-3zM65 648h2v1h-2zM346 648h1v1h-1zM376 648h3v1h-3zM532 648h3v1h-3zM538 648h3v1h-3zM544 648h1v1h-1zM1116 648h1v1h-1zM64 649h1v1h-1zM347 649h2v1h-2zM352 649h1v1h-1zM370 649h3v1h-3zM28 650h3v1h-3zM58 650h3v1h-3zM353 650h2v1h-2zM358 650h3v1h-3zM364 650h3v1h-3zM34 651h3v1h-3zM40 651h3v1h-3zM46 651h3v1h-3zM52 651h3v1h-3z" fill="#ff0000"/>
<rect x="1420" y="617" width="2" height="1" fill="#000" />
<line x1="4" y1="708.5" x2="1419" y2="708.5" stroke="#c0c0c0" stroke-width="1" stroke-dasharray="3 3"/>
<line x1="4" y1="759.5" x2="1419" y2="759.5" stroke="#c0c0c0" stroke-width="1" stroke-dasharray="3 3"/>
</g>
<g shape-rendering="crispEdges">
<path d="M764 709h1v1h-1zM763 710h1v1h-1zM765 710h2v1h-2zM762 711h1v1h-1zM767 711h2v1h-2zM873 711h4v1h-4zM761 712h1v1h-1zM769 712h1v1h-1zM867 712h6v1h-6zM877 712h1v1h-1zM760 713h1v1h-1zM770 713h2v1h-2zM785 713h4v1h-4zM863 713h4v1h-4zM878 713h1v1h-1zM759 714h1v1h-1zM772 714h13v1h-13zM789 714h1v1h-1zM860 714h3v1h-3zM879 714h2v1h-2zM758 715h1v1h-1zM790 715h1v1h-1zM859 715h1v1h-1zM881 715h1v1h-1zM228 716h1v1h-1zM757 716h1v1h-1zM791 716h1v1h-1zM858 716h1v1h-1zM882 716h1v1h-1zM905 716h4v1h-4zM756 717h1v1h-1zM857 717h1v1h-1zM883 717h1v1h-1zM889 717h16v1h-16zM909 717h2v1h-2zM227 717h1v2h-1zM229 717h1v2h-1zM792 717h1v2h-1zM755 718h1v1h-1zM884 718h5v1h-5zM911 718h1v1h-1zM856 718h1v2h-1zM226 719h1v1h-1zM230 719h1v1h-1zM739 719h2v1h-2zM754 719h1v1h-1zM793 719h1v1h-1zM912 719h1v1h-1zM225 720h1v1h-1zM231 720h1v1h-1zM735 720h4v1h-4zM741 720h1v1h-1zM753 720h1v1h-1zM794 720h1v1h-1zM855 720h1v1h-1zM913 720h2v1h-2zM733 721h2v1h-2zM742 721h1v1h-1zM795 721h1v1h-1zM854 721h1v1h-1zM915 721h1v1h-1zM224 721h1v2h-1zM232 721h1v2h-1zM732 721h1v2h-1zM752 721h1v2h-1zM743 722h2v1h-2zM796 722h2v1h-2zM853 722h1v1h-1zM916 722h1v1h-1zM223 723h1v1h-1zM233 723h1v1h-1zM745 723h1v1h-1zM751 723h1v1h-1zM798 723h2v1h-2zM852 723h1v1h-1zM731 723h1v2h-1zM917 723h1v2h-1zM222 724h1v1h-1zM234 724h1v1h-1zM746 724h1v1h-1zM750 724h1v1h-1zM800 724h2v1h-2zM851 724h1v1h-1zM76 725h2v1h-2zM747 725h1v1h-1zM749 725h1v1h-1zM802 725h2v1h-2zM850 725h1v1h-1zM221 725h1v2h-1zM235 725h1v2h-1zM730 725h1v2h-1zM918 725h1v2h-1zM75 726h1v1h-1zM78 726h3v1h-3zM401 726h4v1h-4zM748 726h1v1h-1zM804 726h1v1h-1zM849 726h1v1h-1zM74 727h1v1h-1zM81 727h2v1h-2zM219 727h2v1h-2zM236 727h1v1h-1zM393 727h8v1h-8zM405 727h2v1h-2zM729 727h1v2h-1zM805 727h1v2h-1zM848 727h1v2h-1zM919 727h1v2h-1zM73 728h1v1h-1zM83 728h4v1h-4zM217 728h2v1h-2zM388 728h5v1h-5zM407 728h2v1h-2zM237 728h1v2h-1zM71 729h2v1h-2zM87 729h4v1h-4zM214 729h3v1h-3zM387 729h1v1h-1zM409 729h1v1h-1zM419 729h2v1h-2zM579 729h4v1h-4zM847 729h1v1h-1zM728 729h1v2h-1zM806 729h1v2h-1zM920 729h1v2h-1zM70 730h1v1h-1zM91 730h3v1h-3zM108 730h1v1h-1zM211 730h3v1h-3zM386 730h1v1h-1zM410 730h2v1h-2zM415 730h4v1h-4zM575 730h4v1h-4zM583 730h4v1h-4zM846 730h1v1h-1zM238 730h1v2h-1zM421 730h1v2h-1zM69 731h1v1h-1zM94 731h2v1h-2zM106 731h2v1h-2zM109 731h1v1h-1zM209 731h2v1h-2zM385 731h1v1h-1zM412 731h3v1h-3zM571 731h4v1h-4zM587 731h2v1h-2zM668 731h5v1h-5zM845 731h1v1h-1zM727 731h1v2h-1zM807 731h1v2h-1zM921 731h1v2h-1zM68 732h1v1h-1zM96 732h2v1h-2zM104 732h2v1h-2zM180 732h1v1h-1zM206 732h3v1h-3zM239 732h1v1h-1zM371 732h3v1h-3zM384 732h1v1h-1zM569 732h2v1h-2zM589 732h1v1h-1zM667 732h1v1h-1zM673 732h5v1h-5zM844 732h1v1h-1zM110 732h1v2h-1zM422 732h1v2h-1zM66 733h2v1h-2zM98 733h2v1h-2zM102 733h2v1h-2zM179 733h1v1h-1zM181 733h2v1h-2zM196 733h10v1h-10zM367 733h4v1h-4zM374 733h2v1h-2zM383 733h1v1h-1zM566 733h3v1h-3zM590 733h1v1h-1zM666 733h1v1h-1zM678 733h3v1h-3zM808 733h1v1h-1zM843 733h1v1h-1zM240 733h1v2h-1zM726 733h1v2h-1zM922 733h1v2h-1zM64 734h2v1h-2zM100 734h2v1h-2zM111 734h1v1h-1zM178 734h1v1h-1zM183 734h2v1h-2zM194 734h2v1h-2zM363 734h4v1h-4zM376 734h2v1h-2zM382 734h1v1h-1zM564 734h2v1h-2zM591 734h2v1h-2zM665 734h1v1h-1zM681 734h2v1h-2zM842 734h1v1h-1zM423 734h1v2h-1zM809 734h1v2h-1zM62 735h2v1h-2zM112 735h1v1h-1zM177 735h1v1h-1zM185 735h1v1h-1zM192 735h2v1h-2zM241 735h1v1h-1zM260 735h1v1h-1zM361 735h2v1h-2zM378 735h2v1h-2zM381 735h1v1h-1zM562 735h2v1h-2zM593 735h1v1h-1zM663 735h2v1h-2zM683 735h2v1h-2zM841 735h1v1h-1zM1003 735h12v1h-12zM1044 735h1v1h-1zM725 735h1v2h-1zM923 735h1v2h-1zM33 736h6v1h-6zM59 736h3v1h-3zM113 736h1v1h-1zM176 736h1v1h-1zM186 736h2v1h-2zM190 736h2v1h-2zM258 736h2v1h-2zM261 736h1v1h-1zM358 736h3v1h-3zM380 736h1v1h-1zM444 736h1v1h-1zM560 736h2v1h-2zM594 736h1v1h-1zM662 736h1v1h-1zM685 736h1v1h-1zM929 736h16v1h-16zM1001 736h2v1h-2zM1015 736h4v1h-4zM1043 736h1v1h-1zM1045 736h1v1h-1zM242 736h1v2h-1zM424 736h1v2h-1zM810 736h1v2h-1zM840 736h1v2h-1zM28 737h5v1h-5zM39 737h4v1h-4zM55 737h4v1h-4zM175 737h1v1h-1zM188 737h2v1h-2zM257 737h1v1h-1zM262 737h1v1h-1zM356 737h2v1h-2zM442 737h2v1h-2zM445 737h2v1h-2zM558 737h2v1h-2zM595 737h1v1h-1zM601 737h4v1h-4zM661 737h1v1h-1zM686 737h1v1h-1zM825 737h5v1h-5zM924 737h5v1h-5zM945 737h4v1h-4zM998 737h3v1h-3zM1019 737h2v1h-2zM1042 737h1v1h-1zM1046 737h1v1h-1zM114 737h1v2h-1zM724 737h1v2h-1zM26 738h2v1h-2zM43 738h12v1h-12zM174 738h1v1h-1zM255 738h2v1h-2zM263 738h2v1h-2zM355 738h1v1h-1zM440 738h2v1h-2zM447 738h1v1h-1zM500 738h3v1h-3zM540 738h3v1h-3zM555 738h3v1h-3zM596 738h5v1h-5zM605 738h1v1h-1zM660 738h1v1h-1zM687 738h2v1h-2zM716 738h8v1h-8zM819 738h6v1h-6zM830 738h2v1h-2zM839 738h1v1h-1zM988 738h10v1h-10zM1021 738h1v1h-1zM1041 738h1v1h-1zM1047 738h2v1h-2zM243 738h1v2h-1zM425 738h1v2h-1zM811 738h1v2h-1zM949 738h1v2h-1zM25 739h1v1h-1zM115 739h1v1h-1zM173 739h1v1h-1zM253 739h2v1h-2zM265 739h1v1h-1zM354 739h1v1h-1zM438 739h2v1h-2zM448 739h1v1h-1zM499 739h1v1h-1zM503 739h4v1h-4zM538 739h2v1h-2zM543 739h4v1h-4zM551 739h4v1h-4zM606 739h1v1h-1zM659 739h1v1h-1zM689 739h1v1h-1zM815 739h4v1h-4zM832 739h2v1h-2zM838 739h1v1h-1zM1022 739h1v1h-1zM1039 739h2v1h-2zM1049 739h1v1h-1zM715 739h1v2h-1zM987 739h1v2h-1zM23 740h2v1h-2zM116 740h2v1h-2zM172 740h1v1h-1zM244 740h9v1h-9zM266 740h1v1h-1zM353 740h1v1h-1zM436 740h2v1h-2zM449 740h2v1h-2zM497 740h2v1h-2zM507 740h3v1h-3zM524 740h3v1h-3zM536 740h2v1h-2zM547 740h4v1h-4zM607 740h2v1h-2zM690 740h1v1h-1zM812 740h3v1h-3zM834 740h2v1h-2zM837 740h1v1h-1zM950 740h1v1h-1zM1023 740h1v1h-1zM1038 740h1v1h-1zM1050 740h1v1h-1zM426 740h1v2h-1zM658 740h1v2h-1zM21 741h2v1h-2zM118 741h2v1h-2zM171 741h1v1h-1zM267 741h1v1h-1zM324 741h2v1h-2zM434 741h2v1h-2zM451 741h1v1h-1zM496 741h1v1h-1zM510 741h2v1h-2zM522 741h2v1h-2zM527 741h4v1h-4zM534 741h2v1h-2zM609 741h1v1h-1zM691 741h1v1h-1zM836 741h1v1h-1zM951 741h1v1h-1zM986 741h1v1h-1zM1037 741h1v1h-1zM1051 741h1v1h-1zM352 741h1v2h-1zM714 741h1v2h-1zM1024 741h1v2h-1zM20 742h1v1h-1zM120 742h2v1h-2zM169 742h2v1h-2zM268 742h3v1h-3zM323 742h1v1h-1zM326 742h3v1h-3zM432 742h2v1h-2zM452 742h1v1h-1zM495 742h1v1h-1zM512 742h2v1h-2zM520 742h2v1h-2zM531 742h3v1h-3zM610 742h1v1h-1zM657 742h1v1h-1zM692 742h1v1h-1zM1036 742h1v1h-1zM1052 742h5v1h-5zM427 742h1v2h-1zM952 742h1v2h-1zM985 742h1v2h-1zM18 743h2v1h-2zM122 743h2v1h-2zM129 743h3v1h-3zM168 743h1v1h-1zM271 743h4v1h-4zM322 743h1v1h-1zM329 743h2v1h-2zM351 743h1v1h-1zM430 743h2v1h-2zM493 743h2v1h-2zM514 743h2v1h-2zM518 743h2v1h-2zM611 743h1v1h-1zM656 743h1v1h-1zM693 743h1v1h-1zM713 743h1v1h-1zM1025 743h1v1h-1zM1034 743h2v1h-2zM1057 743h5v1h-5zM132 743h1v2h-1zM453 743h1v2h-1zM16 744h2v1h-2zM124 744h5v1h-5zM167 744h1v1h-1zM275 744h3v1h-3zM321 744h1v1h-1zM331 744h4v1h-4zM350 744h1v1h-1zM428 744h2v1h-2zM492 744h1v1h-1zM516 744h2v1h-2zM612 744h2v1h-2zM655 744h1v1h-1zM694 744h1v1h-1zM953 744h1v1h-1zM984 744h1v1h-1zM1026 744h1v1h-1zM1032 744h2v1h-2zM1062 744h3v1h-3zM712 744h1v2h-1zM14 745h2v1h-2zM165 745h2v1h-2zM278 745h2v1h-2zM335 745h4v1h-4zM349 745h1v1h-1zM454 745h1v1h-1zM491 745h1v1h-1zM614 745h2v1h-2zM695 745h2v1h-2zM954 745h1v1h-1zM1027 745h1v1h-1zM1030 745h2v1h-2zM1065 745h2v1h-2zM133 745h1v2h-1zM320 745h1v2h-1zM654 745h1v2h-1zM983 745h1v2h-1zM4 746h10v1h-10zM164 746h1v1h-1zM280 746h2v1h-2zM339 746h10v1h-10zM490 746h1v1h-1zM616 746h2v1h-2zM627 746h20v1h-20zM697 746h1v1h-1zM711 746h1v1h-1zM963 746h4v1h-4zM1028 746h2v1h-2zM1067 746h2v1h-2zM455 746h1v2h-1zM955 746h1v2h-1zM162 747h2v1h-2zM282 747h2v1h-2zM319 747h1v1h-1zM489 747h1v1h-1zM618 747h2v1h-2zM623 747h4v1h-4zM647 747h4v1h-4zM653 747h1v1h-1zM698 747h1v1h-1zM959 747h4v1h-4zM967 747h4v1h-4zM982 747h1v1h-1zM1069 747h1v1h-1zM134 747h1v2h-1zM710 747h1v2h-1zM161 748h1v1h-1zM284 748h5v1h-5zM297 748h6v1h-6zM318 748h1v1h-1zM456 748h1v1h-1zM620 748h3v1h-3zM651 748h2v1h-2zM699 748h1v1h-1zM956 748h3v1h-3zM971 748h4v1h-4zM1070 748h1v1h-1zM488 748h1v2h-1zM981 748h1v2h-1zM148 749h3v1h-3zM159 749h2v1h-2zM289 749h8v1h-8zM303 749h4v1h-4zM317 749h1v1h-1zM700 749h3v1h-3zM975 749h4v1h-4zM1071 749h2v1h-2zM135 749h1v2h-1zM457 749h1v2h-1zM709 749h1v2h-1zM147 750h1v1h-1zM151 750h4v1h-4zM157 750h2v1h-2zM307 750h10v1h-10zM487 750h1v1h-1zM703 750h4v1h-4zM979 750h2v1h-2zM1073 750h1v1h-1zM155 751h2v1h-2zM458 751h1v1h-1zM476 751h3v1h-3zM486 751h1v1h-1zM707 751h2v1h-2zM1074 751h1v1h-1zM136 751h1v2h-1zM146 751h1v2h-1zM474 752h2v1h-2zM479 752h4v1h-4zM485 752h1v1h-1zM1075 752h1v1h-1zM459 752h1v2h-1zM145 753h1v1h-1zM473 753h1v1h-1zM483 753h2v1h-2zM1076 753h5v1h-5zM1089 753h5v1h-5zM1115 753h2v1h-2zM137 753h1v2h-1zM144 754h1v1h-1zM460 754h3v1h-3zM471 754h2v1h-2zM1081 754h8v1h-8zM1094 754h3v1h-3zM1111 754h4v1h-4zM143 755h1v1h-1zM463 755h4v1h-4zM469 755h2v1h-2zM1097 755h2v1h-2zM1105 755h6v1h-6zM138 755h1v2h-1zM467 756h2v1h-2zM1099 756h6v1h-6zM142 756h1v2h-1zM139 757h1v2h-1zM141 758h1v1h-1zM140 759h1v1h-1z" fill="#1e90ff"/>
</g>
<text x="1423.4" y="574" font-size="9.8" fill="#000" textLength="37.3" lengthAdjust="spacingAndGlyphs" stroke="#000" stroke-width="0.15" >0.004484</text>
<text x="1423.4" y="621" font-size="9.8" fill="#000" textLength="17.4" lengthAdjust="spacingAndGlyphs" stroke="#000" stroke-width="0.15" >0.00</text>
<text x="1423.4" y="662.8" font-size="9.8" fill="#000" textLength="30.1" lengthAdjust="spacingAndGlyphs" stroke="#000" stroke-width="0.15" >-0.0041</text>
<text x="1423.4" y="679" font-size="9.8" fill="#000" textLength="14.6" lengthAdjust="spacingAndGlyphs" stroke="#000" stroke-width="0.15" >100</text>
<text x="1422.4" y="712" font-size="9.8" fill="#000" textLength="9.6" lengthAdjust="spacingAndGlyphs" stroke="#000" stroke-width="0.15" >70</text>
<text x="1422.4" y="763" font-size="9.8" fill="#000" textLength="9.6" lengthAdjust="spacingAndGlyphs" stroke="#000" stroke-width="0.15" >30</text>
<text x="1423" y="795" font-size="9.8" fill="#000" textLength="4.8" lengthAdjust="spacingAndGlyphs" stroke="#000" stroke-width="0.15" >0</text>
<text x="19" y="34" font-size="9.8" fill="#000" textLength="66" lengthAdjust="spacingAndGlyphs" stroke="#000" stroke-width="0.15" >EURUSD-,Daily</text>
<text x="92" y="34" font-size="9.8" fill="#000" textLength="141" lengthAdjust="spacingAndGlyphs" stroke="#000" stroke-width="0.15" >1.11293 1.11353 1.11281 1.11353</text>
<polygon points="7,33.4 14.4,33.4 10.7,29.2" fill="#000"/>
<text x="8.2" y="576" font-size="9.8" fill="#000" textLength="153.6" lengthAdjust="spacingAndGlyphs" stroke="#000" stroke-width="0.15" >MACD(12,26,9) -0.003709 -0.002550</text>
<text x="8.2" y="681" font-size="9.8" fill="#000" textLength="67.5" lengthAdjust="spacingAndGlyphs" stroke="#000" stroke-width="0.15" >RSI(14) 34.8290</text>
<g shape-rendering="crispEdges">
<rect x="4" y="799" width="1" height="3" fill="#000" />
<rect x="68" y="799" width="1" height="3" fill="#000" />
<rect x="132" y="799" width="1" height="3" fill="#000" />
<rect x="196" y="799" width="1" height="3" fill="#000" />
<rect x="260" y="799" width="1" height="3" fill="#000" />
<rect x="324" y="799" width="1" height="3" fill="#000" />
<rect x="388" y="799" width="1" height="3" fill="#000" />
<rect x="452" y="799" width="1" height="3" fill="#000" />
<rect x="516" y="799" width="1" height="3" fill="#000" />
<rect x="580" y="799" width="1" height="3" fill="#000" />
<rect x="644" y="799" width="1" height="3" fill="#000" />
<rect x="708" y="799" width="1" height="3" fill="#000" />
<rect x="772" y="799" width="1" height="3" fill="#000" />
<rect x="836" y="799" width="1" height="3" fill="#000" />
<rect x="900" y="799" width="1" height="3" fill="#000" />
<rect x="964" y="799" width="1" height="3" fill="#000" />
<rect x="1028" y="799" width="1" height="3" fill="#000" />
<rect x="1092" y="799" width="1" height="3" fill="#000" />
</g>
<text x="3.5" y="811" font-size="9.8" fill="#000" textLength="51.4" lengthAdjust="spacingAndGlyphs" stroke="#000" stroke-width="0.15" >15 Feb 2019</text>
<text x="67.5" y="811" font-size="9.8" fill="#000" textLength="51.4" lengthAdjust="spacingAndGlyphs" stroke="#000" stroke-width="0.15" >25 Feb 2019</text>
<text x="131.5" y="811" font-size="9.8" fill="#000" textLength="46.3" lengthAdjust="spacingAndGlyphs" stroke="#000" stroke-width="0.15" >6 Mar 2019</text>
<text x="195.5" y="811" font-size="9.8" fill="#000" textLength="51.4" lengthAdjust="spacingAndGlyphs" stroke="#000" stroke-width="0.15" >15 Mar 2019</text>
<text x="259.5" y="811" font-size="9.8" fill="#000" textLength="51.4" lengthAdjust="spacingAndGlyphs" stroke="#000" stroke-width="0.15" >25 Mar 2019</text>
<text x="323.5" y="811" font-size="9.8" fill="#000" textLength="44.3" lengthAdjust="spacingAndGlyphs" stroke="#000" stroke-width="0.15" >3 Apr 2019</text>
<text x="387.5" y="811" font-size="9.8" fill="#000" textLength="49.3" lengthAdjust="spacingAndGlyphs" stroke="#000" stroke-width="0.15" >12 Apr 2019</text>
<text x="451.5" y="811" font-size="9.8" fill="#000" textLength="49.3" lengthAdjust="spacingAndGlyphs" stroke="#000" stroke-width="0.15" >23 Apr 2019</text>
<text x="515.5" y="811" font-size="9.8" fill="#000" textLength="47.8" lengthAdjust="spacingAndGlyphs" stroke="#000" stroke-width="0.15" >2 May 2019</text>
<text x="579.5" y="811" font-size="9.8" fill="#000" textLength="52.9" lengthAdjust="spacingAndGlyphs" stroke="#000" stroke-width="0.15" >12 May 2019</text>
<text x="643.5" y="811" font-size="9.8" fill="#000" textLength="52.9" lengthAdjust="spacingAndGlyphs" stroke="#000" stroke-width="0.15" >21 May 2019</text>
<text x="707.5" y="811" font-size="9.8" fill="#000" textLength="52.9" lengthAdjust="spacingAndGlyphs" stroke="#000" stroke-width="0.15" >30 May 2019</text>
<text x="771.5" y="811" font-size="9.8" fill="#000" textLength="45.3" lengthAdjust="spacingAndGlyphs" stroke="#000" stroke-width="0.15" >9 Jun 2019</text>
<text x="835.5" y="811" font-size="9.8" fill="#000" textLength="50.4" lengthAdjust="spacingAndGlyphs" stroke="#000" stroke-width="0.15" >18 Jun 2019</text>
<text x="899.5" y="811" font-size="9.8" fill="#000" textLength="50.4" lengthAdjust="spacingAndGlyphs" stroke="#000" stroke-width="0.15" >27 Jun 2019</text>
<text x="963.5" y="811" font-size="9.8" fill="#000" textLength="42.2" lengthAdjust="spacingAndGlyphs" stroke="#000" stroke-width="0.15" >7 Jul 2019</text>
<text x="1027.5" y="811" font-size="9.8" fill="#000" textLength="47.3" lengthAdjust="spacingAndGlyphs" stroke="#000" stroke-width="0.15" >16 Jul 2019</text>
<text x="1091.5" y="811" font-size="9.8" fill="#000" textLength="47.3" lengthAdjust="spacingAndGlyphs" stroke="#000" stroke-width="0.15" >25 Jul 2019</text>
<g shape-rendering="crispEdges">
<rect x="0" y="819" width="1463" height="1" fill="#e3e3e3" />
<rect x="0" y="820" width="1463" height="1" fill="#f8f8f8" />
<rect x="0" y="822" width="1463" height="19" fill="#f0f0f0" />
<rect x="0" y="841" width="1463" height="1" fill="#fff" />
<rect x="0" y="842" width="1463" height="2" fill="#f0f0f0" />
<rect x="0" y="821" width="1463" height="1" fill="#000" />
<rect x="6" y="821" width="106" height="18" fill="#fff" />
<rect x="5" y="821" width="1" height="19" fill="#000" />
<rect x="5" y="839" width="108" height="1" fill="#000" />
<rect x="112" y="821" width="1" height="19" fill="#000" />
<rect x="0" y="822" width="1" height="18" fill="#696969" />
<rect x="221" y="826" width="1" height="11" fill="#808080" />
<rect x="329" y="826" width="1" height="11" fill="#808080" />
<rect x="437" y="826" width="1" height="11" fill="#808080" />
<rect x="537" y="826" width="1" height="11" fill="#808080" />
<rect x="657" y="826" width="1" height="11" fill="#808080" />
<rect x="781" y="826" width="1" height="11" fill="#808080" />
<rect x="877" y="826" width="1" height="11" fill="#808080" />
<rect x="957" y="826" width="1" height="11" fill="#808080" />
<rect x="1062" y="826" width="1" height="11" fill="#808080" />
</g>
<text x="16.5" y="835.5" font-size="12" fill="#000" textLength="84.5" lengthAdjust="spacingAndGlyphs" >EURUSD-,Daily</text>
<text x="123.2" y="835.5" font-size="12" fill="#707070" textLength="86.8" lengthAdjust="spacingAndGlyphs" >AUDUSD-,Daily</text>
<text x="233.3" y="835.5" font-size="12" fill="#707070" textLength="83.7" lengthAdjust="spacingAndGlyphs" >USDCHF-,Daily</text>
<text x="340.3" y="835.5" font-size="12" fill="#707070" textLength="85.4" lengthAdjust="spacingAndGlyphs" >USDCAD-,Daily</text>
<text x="449.3" y="835.5" font-size="12" fill="#707070" textLength="75.5" lengthAdjust="spacingAndGlyphs" >USDCNH-,H4</text>
<text x="548.5" y="835.5" font-size="12" fill="#707070" textLength="96.5" lengthAdjust="spacingAndGlyphs" >EURCHF-,Weekly</text>
<text x="669.5" y="835.5" font-size="12" fill="#707070" textLength="99.5" lengthAdjust="spacingAndGlyphs" >XAUUSD-,Weekly</text>
<text x="792.8" y="835.5" font-size="12" fill="#707070" textLength="71.4" lengthAdjust="spacingAndGlyphs" >GBPUSD-,H1</text>
<text x="888.8" y="835.5" font-size="12" fill="#707070" textLength="55.5" lengthAdjust="spacingAndGlyphs" >UKOil-,H1</text>
<text x="967.3" y="835.5" font-size="12" fill="#707070" textLength="82.7" lengthAdjust="spacingAndGlyphs" >USDX-,Weekly</text>
<polygon points="1438,827.3 1438,833.7 1434.7,830.5" fill="#808080"/>
<polygon points="1454,827.3 1454,833.7 1457.3,830.5" fill="#808080"/>
<g shape-rendering="crispEdges">
<rect x="226" y="40" width="2" height="68" fill="#fff" />
<rect x="5" y="106" width="223" height="2" fill="#fff" />
</g>
<rect x="61.5" y="42.5" width="110" height="21" fill="#fff" stroke="#a0a0a0"/>
<rect x="62.5" y="43.5" width="19" height="19" fill="url(#bg)" stroke="#e8e8e8"/>
<rect x="150.5" y="43.5" width="20" height="19" fill="url(#bg)" stroke="#e8e8e8"/>
<rect x="82" y="43" width="1" height="20" fill="#a0a0a0" />
<rect x="150" y="43" width="1" height="20" fill="#a0a0a0" />
<polygon points="69,51 74.5,51 71.75,54.3" fill="#4a5fb4"/>
<polygon points="157.5,54.3 163.5,54.3 160.5,50.8" fill="#4a5fb4"/>
<text x="123.6" y="57" font-size="12" fill="#000" textLength="23" lengthAdjust="spacingAndGlyphs" >1.00</text>
<path d="M7.5,42.5 H58.5 V66.5 H115.5 V105.5 H7.5 Z" fill="url(#pg)" stroke="#1616b8" stroke-width="1"/>
<path d="M174.5,42.5 H225.5 V105.5 H118.5 V66.5 H174.5 Z" fill="url(#pg)" stroke="#1616b8" stroke-width="1"/>
<g shape-rendering="crispEdges">
<rect x="11" y="65" width="44" height="1" fill="#1414b8" />
<rect x="11" y="66" width="44" height="1" fill="#8c8cf0" />
<rect x="178" y="65" width="44" height="1" fill="#1414b8" />
<rect x="178" y="66" width="44" height="1" fill="#8c8cf0" />
</g>
<text x="19.7" y="57.6" font-size="12" fill="#fff" textLength="25.4" lengthAdjust="spacingAndGlyphs" >SELL</text>
<text x="187.6" y="57.6" font-size="12" fill="#fff" textLength="23.2" lengthAdjust="spacingAndGlyphs" >BUY</text>
<text x="27.6" y="96.6" font-size="12.5" fill="#fff" textLength="23.2" lengthAdjust="spacingAndGlyphs" font-weight="bold" >1.11</text>
<text x="137.6" y="96.6" font-size="12.5" fill="#fff" textLength="23.2" lengthAdjust="spacingAndGlyphs" font-weight="bold" >1.11</text>
<text x="55.3" y="96.9" font-size="34" fill="#fff" textLength="33.6" lengthAdjust="spacingAndGlyphs" stroke="url(#pg)" stroke-width="0.7">35</text>
<text x="166.3" y="96.9" font-size="34" fill="#fff" textLength="34.9" lengthAdjust="spacingAndGlyphs" stroke="url(#pg)" stroke-width="0.7">37</text>
<text x="94.6" y="81" font-size="12" fill="#fff" textLength="6.2" lengthAdjust="spacingAndGlyphs" font-weight="bold" >3</text>
<text x="205" y="81" font-size="12" fill="#fff" textLength="7" lengthAdjust="spacingAndGlyphs" font-weight="bold" >0</text>
</svg></body></html>
